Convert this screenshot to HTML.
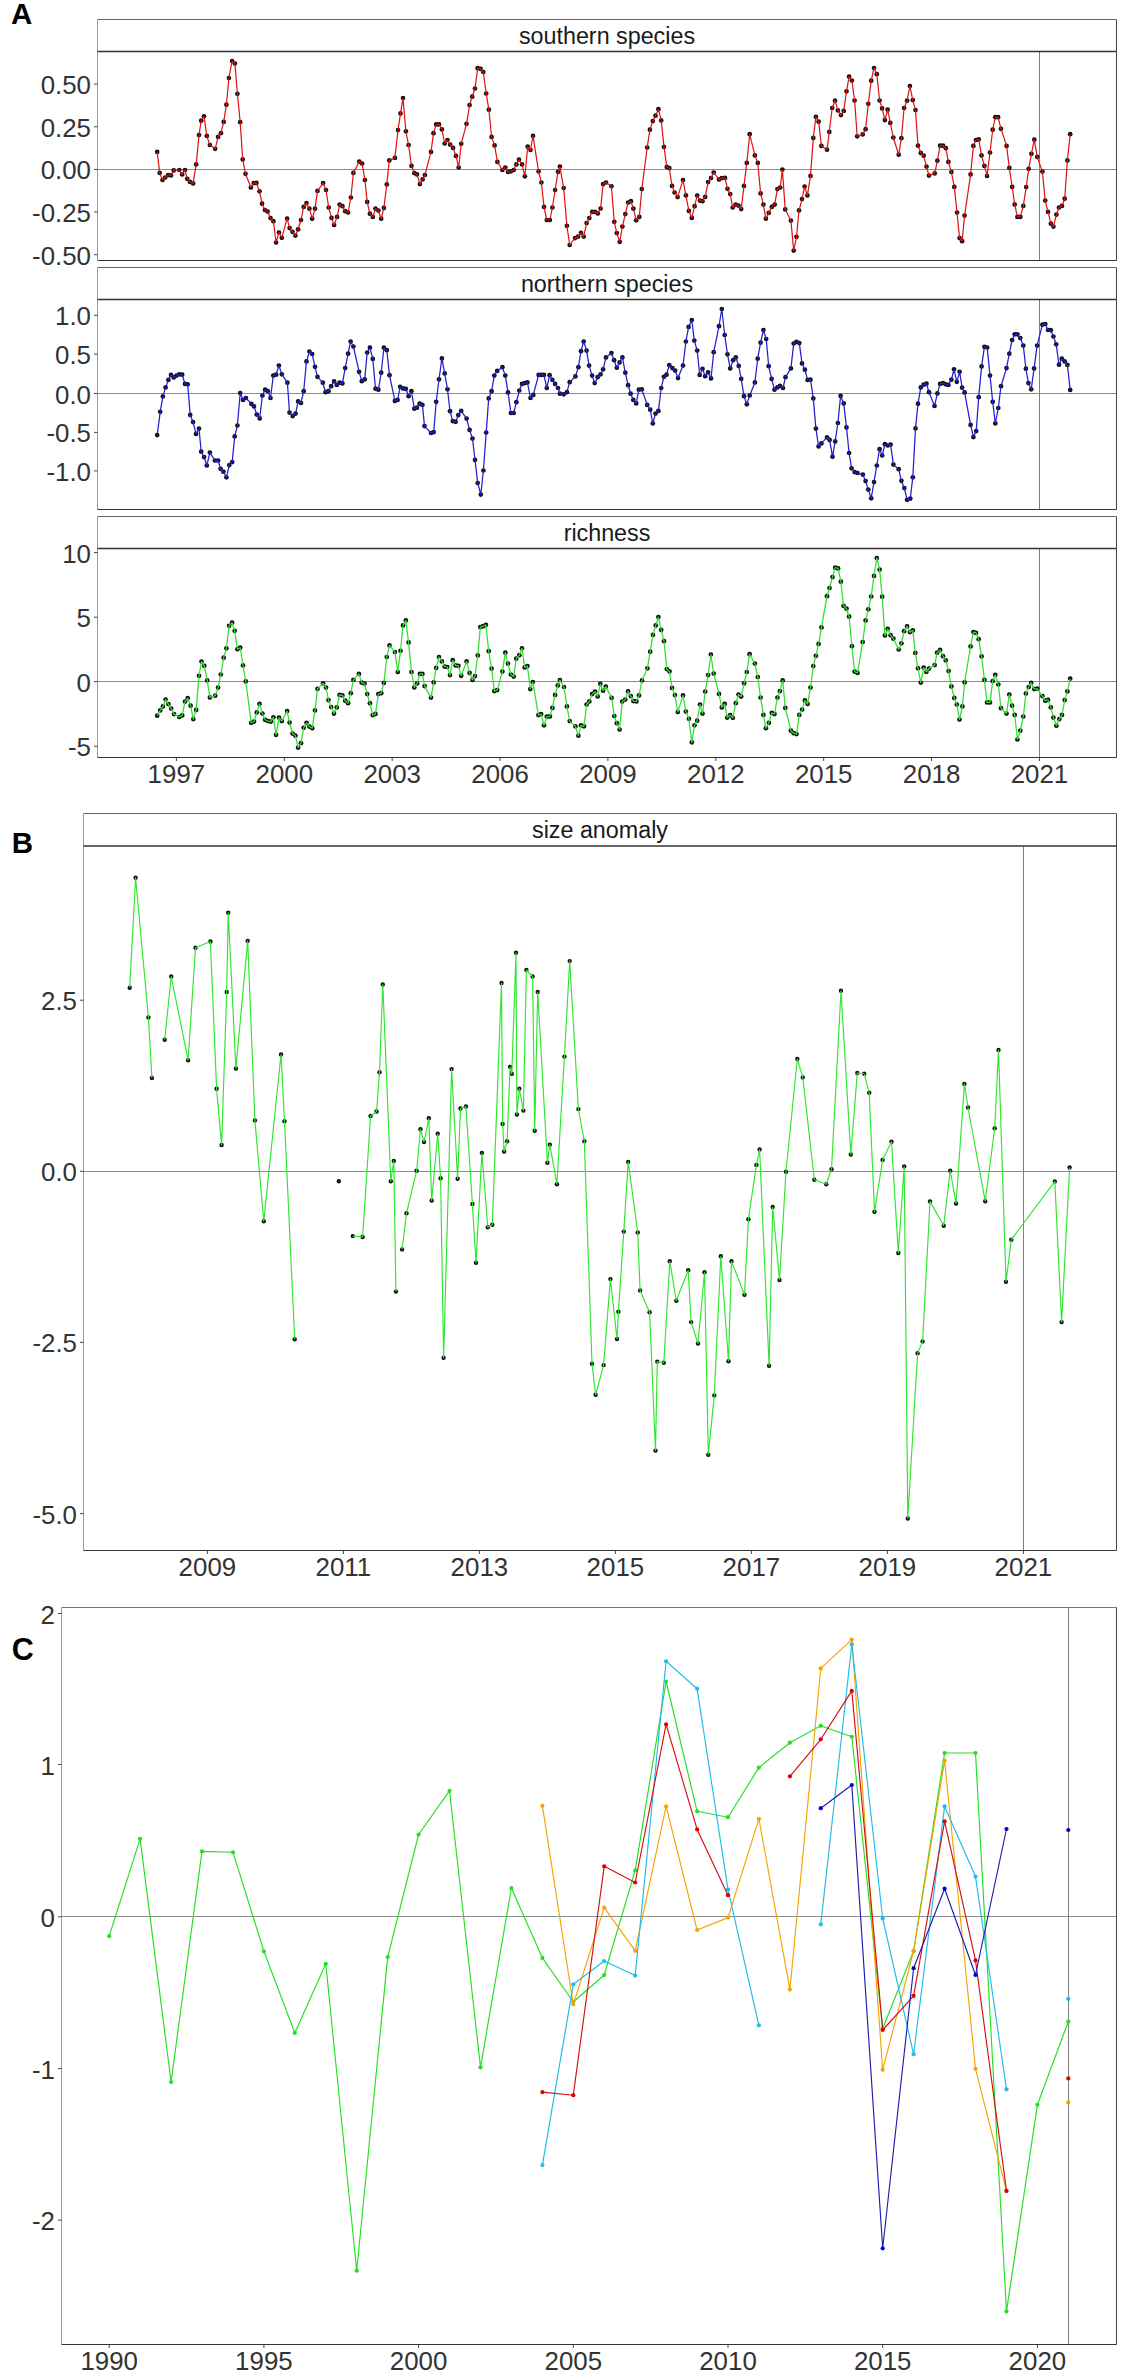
<!DOCTYPE html>
<html><head><meta charset="utf-8"><style>
html,body{margin:0;padding:0;background:#fff;}
svg{display:block;font-family:"Liberation Sans",sans-serif;}
</style></head><body>
<svg width="1121" height="2374" viewBox="0 0 1121 2374">
<rect width="1121" height="2374" fill="#fff"/>
<line x1="97.5" y1="19.5" x2="1116.5" y2="19.5" stroke="#666" stroke-width="1"/>
<line x1="97.5" y1="19.5" x2="97.5" y2="51.5" stroke="#9a9a9a" stroke-width="1"/>
<line x1="1116.5" y1="19.5" x2="1116.5" y2="51.5" stroke="#444" stroke-width="1"/>
<text x="607.0" y="43.5" font-size="23.3" text-anchor="middle" fill="#1a1a1a" font-weight="normal">southern species</text>
<line x1="97.5" y1="169.5" x2="1116.5" y2="169.5" stroke="#8c8c8c" stroke-width="1"/>
<line x1="1039.5" y1="51.5" x2="1039.5" y2="260.5" stroke="#808080" stroke-width="1"/>
<line x1="97.5" y1="51.5" x2="97.5" y2="260.5" stroke="#9a9a9a" stroke-width="1"/>
<line x1="1116.5" y1="51.5" x2="1116.5" y2="260.5" stroke="#444" stroke-width="1"/>
<line x1="97.5" y1="260.5" x2="1116.5" y2="260.5" stroke="#333" stroke-width="1"/>
<line x1="97.5" y1="51.5" x2="1116.5" y2="51.5" stroke="#333" stroke-width="1.5"/>
<line x1="94.0" y1="84.1" x2="97.5" y2="84.1" stroke="#444" stroke-width="1"/>
<text transform="translate(91.00,94.10) scale(1.035,1)" x="0" y="0" font-size="25" text-anchor="end" fill="#333333" font-weight="normal">0.50</text>
<line x1="94.0" y1="126.8" x2="97.5" y2="126.8" stroke="#444" stroke-width="1"/>
<text transform="translate(91.00,136.80) scale(1.035,1)" x="0" y="0" font-size="25" text-anchor="end" fill="#333333" font-weight="normal">0.25</text>
<line x1="94.0" y1="169.4" x2="97.5" y2="169.4" stroke="#444" stroke-width="1"/>
<text transform="translate(91.00,179.40) scale(1.035,1)" x="0" y="0" font-size="25" text-anchor="end" fill="#333333" font-weight="normal">0.00</text>
<line x1="94.0" y1="212.0" x2="97.5" y2="212.0" stroke="#444" stroke-width="1"/>
<text transform="translate(91.00,222.00) scale(1.035,1)" x="0" y="0" font-size="25" text-anchor="end" fill="#333333" font-weight="normal">-0.25</text>
<line x1="94.0" y1="254.7" x2="97.5" y2="254.7" stroke="#444" stroke-width="1"/>
<text transform="translate(91.00,264.70) scale(1.035,1)" x="0" y="0" font-size="25" text-anchor="end" fill="#333333" font-weight="normal">-0.50</text>
<line x1="97.5" y1="267.5" x2="1116.5" y2="267.5" stroke="#666" stroke-width="1"/>
<line x1="97.5" y1="267.5" x2="97.5" y2="299.5" stroke="#9a9a9a" stroke-width="1"/>
<line x1="1116.5" y1="267.5" x2="1116.5" y2="299.5" stroke="#444" stroke-width="1"/>
<text x="607.0" y="291.5" font-size="23.3" text-anchor="middle" fill="#1a1a1a" font-weight="normal">northern species</text>
<line x1="97.5" y1="393.5" x2="1116.5" y2="393.5" stroke="#8c8c8c" stroke-width="1"/>
<line x1="1039.5" y1="299.5" x2="1039.5" y2="509.5" stroke="#808080" stroke-width="1"/>
<line x1="97.5" y1="299.5" x2="97.5" y2="509.5" stroke="#9a9a9a" stroke-width="1"/>
<line x1="1116.5" y1="299.5" x2="1116.5" y2="509.5" stroke="#444" stroke-width="1"/>
<line x1="97.5" y1="509.5" x2="1116.5" y2="509.5" stroke="#333" stroke-width="1"/>
<line x1="97.5" y1="299.5" x2="1116.5" y2="299.5" stroke="#333" stroke-width="1.5"/>
<line x1="94.0" y1="315.3" x2="97.5" y2="315.3" stroke="#444" stroke-width="1"/>
<text transform="translate(91.00,325.30) scale(1.035,1)" x="0" y="0" font-size="25" text-anchor="end" fill="#333333" font-weight="normal">1.0</text>
<line x1="94.0" y1="354.1" x2="97.5" y2="354.1" stroke="#444" stroke-width="1"/>
<text transform="translate(91.00,364.10) scale(1.035,1)" x="0" y="0" font-size="25" text-anchor="end" fill="#333333" font-weight="normal">0.5</text>
<line x1="94.0" y1="393.5" x2="97.5" y2="393.5" stroke="#444" stroke-width="1"/>
<text transform="translate(91.00,403.50) scale(1.035,1)" x="0" y="0" font-size="25" text-anchor="end" fill="#333333" font-weight="normal">0.0</text>
<line x1="94.0" y1="432.4" x2="97.5" y2="432.4" stroke="#444" stroke-width="1"/>
<text transform="translate(91.00,442.40) scale(1.035,1)" x="0" y="0" font-size="25" text-anchor="end" fill="#333333" font-weight="normal">-0.5</text>
<line x1="94.0" y1="470.9" x2="97.5" y2="470.9" stroke="#444" stroke-width="1"/>
<text transform="translate(91.00,480.90) scale(1.035,1)" x="0" y="0" font-size="25" text-anchor="end" fill="#333333" font-weight="normal">-1.0</text>
<line x1="97.5" y1="516.5" x2="1116.5" y2="516.5" stroke="#666" stroke-width="1"/>
<line x1="97.5" y1="516.5" x2="97.5" y2="548.5" stroke="#9a9a9a" stroke-width="1"/>
<line x1="1116.5" y1="516.5" x2="1116.5" y2="548.5" stroke="#444" stroke-width="1"/>
<text x="607.0" y="540.5" font-size="23.3" text-anchor="middle" fill="#1a1a1a" font-weight="normal">richness</text>
<line x1="97.5" y1="681.5" x2="1116.5" y2="681.5" stroke="#8c8c8c" stroke-width="1"/>
<line x1="1039.5" y1="548.5" x2="1039.5" y2="757.5" stroke="#808080" stroke-width="1"/>
<line x1="97.5" y1="548.5" x2="97.5" y2="757.5" stroke="#9a9a9a" stroke-width="1"/>
<line x1="1116.5" y1="548.5" x2="1116.5" y2="757.5" stroke="#444" stroke-width="1"/>
<line x1="97.5" y1="757.5" x2="1116.5" y2="757.5" stroke="#333" stroke-width="1"/>
<line x1="97.5" y1="548.5" x2="1116.5" y2="548.5" stroke="#333" stroke-width="1.5"/>
<line x1="94.0" y1="552.6" x2="97.5" y2="552.6" stroke="#444" stroke-width="1"/>
<text transform="translate(91.00,562.60) scale(1.035,1)" x="0" y="0" font-size="25" text-anchor="end" fill="#333333" font-weight="normal">10</text>
<line x1="94.0" y1="617.2" x2="97.5" y2="617.2" stroke="#444" stroke-width="1"/>
<text transform="translate(91.00,627.20) scale(1.035,1)" x="0" y="0" font-size="25" text-anchor="end" fill="#333333" font-weight="normal">5</text>
<line x1="94.0" y1="681.7" x2="97.5" y2="681.7" stroke="#444" stroke-width="1"/>
<text transform="translate(91.00,691.70) scale(1.035,1)" x="0" y="0" font-size="25" text-anchor="end" fill="#333333" font-weight="normal">0</text>
<line x1="94.0" y1="746.3" x2="97.5" y2="746.3" stroke="#444" stroke-width="1"/>
<text transform="translate(91.00,756.30) scale(1.035,1)" x="0" y="0" font-size="25" text-anchor="end" fill="#333333" font-weight="normal">-5</text>
<line x1="176.4" y1="757.5" x2="176.4" y2="761" stroke="#444" stroke-width="1"/>
<text transform="translate(176.40,782.50) scale(1.035,1)" x="0" y="0" font-size="25" text-anchor="middle" fill="#333333" font-weight="normal">1997</text>
<line x1="284.28" y1="757.5" x2="284.28" y2="761" stroke="#444" stroke-width="1"/>
<text transform="translate(284.28,782.50) scale(1.035,1)" x="0" y="0" font-size="25" text-anchor="middle" fill="#333333" font-weight="normal">2000</text>
<line x1="392.15999999999997" y1="757.5" x2="392.15999999999997" y2="761" stroke="#444" stroke-width="1"/>
<text transform="translate(392.16,782.50) scale(1.035,1)" x="0" y="0" font-size="25" text-anchor="middle" fill="#333333" font-weight="normal">2003</text>
<line x1="500.03999999999996" y1="757.5" x2="500.03999999999996" y2="761" stroke="#444" stroke-width="1"/>
<text transform="translate(500.04,782.50) scale(1.035,1)" x="0" y="0" font-size="25" text-anchor="middle" fill="#333333" font-weight="normal">2006</text>
<line x1="607.92" y1="757.5" x2="607.92" y2="761" stroke="#444" stroke-width="1"/>
<text transform="translate(607.92,782.50) scale(1.035,1)" x="0" y="0" font-size="25" text-anchor="middle" fill="#333333" font-weight="normal">2009</text>
<line x1="715.8" y1="757.5" x2="715.8" y2="761" stroke="#444" stroke-width="1"/>
<text transform="translate(715.80,782.50) scale(1.035,1)" x="0" y="0" font-size="25" text-anchor="middle" fill="#333333" font-weight="normal">2012</text>
<line x1="823.68" y1="757.5" x2="823.68" y2="761" stroke="#444" stroke-width="1"/>
<text transform="translate(823.68,782.50) scale(1.035,1)" x="0" y="0" font-size="25" text-anchor="middle" fill="#333333" font-weight="normal">2015</text>
<line x1="931.56" y1="757.5" x2="931.56" y2="761" stroke="#444" stroke-width="1"/>
<text transform="translate(931.56,782.50) scale(1.035,1)" x="0" y="0" font-size="25" text-anchor="middle" fill="#333333" font-weight="normal">2018</text>
<line x1="1039.44" y1="757.5" x2="1039.44" y2="761" stroke="#444" stroke-width="1"/>
<text transform="translate(1039.44,782.50) scale(1.035,1)" x="0" y="0" font-size="25" text-anchor="middle" fill="#333333" font-weight="normal">2021</text>
<line x1="83.5" y1="813.5" x2="1116.5" y2="813.5" stroke="#666" stroke-width="1"/>
<line x1="83.5" y1="813.5" x2="83.5" y2="846" stroke="#9a9a9a" stroke-width="1"/>
<line x1="1116.5" y1="813.5" x2="1116.5" y2="846" stroke="#444" stroke-width="1"/>
<text x="600.0" y="838" font-size="23.3" text-anchor="middle" fill="#1a1a1a" font-weight="normal">size anomaly</text>
<line x1="83.5" y1="1171.5" x2="1116.5" y2="1171.5" stroke="#8c8c8c" stroke-width="1"/>
<line x1="1023.5" y1="846" x2="1023.5" y2="1550.5" stroke="#808080" stroke-width="1"/>
<line x1="83.5" y1="846" x2="83.5" y2="1550.5" stroke="#9a9a9a" stroke-width="1"/>
<line x1="1116.5" y1="846" x2="1116.5" y2="1550.5" stroke="#444" stroke-width="1"/>
<line x1="83.5" y1="1550.5" x2="1116.5" y2="1550.5" stroke="#333" stroke-width="1"/>
<line x1="83.5" y1="846" x2="1116.5" y2="846" stroke="#333" stroke-width="1.5"/>
<line x1="80.0" y1="1000.2" x2="83.5" y2="1000.2" stroke="#444" stroke-width="1"/>
<text transform="translate(77.00,1010.20) scale(1.035,1)" x="0" y="0" font-size="25" text-anchor="end" fill="#333333" font-weight="normal">2.5</text>
<line x1="80.0" y1="1171.3" x2="83.5" y2="1171.3" stroke="#444" stroke-width="1"/>
<text transform="translate(77.00,1181.30) scale(1.035,1)" x="0" y="0" font-size="25" text-anchor="end" fill="#333333" font-weight="normal">0.0</text>
<line x1="80.0" y1="1342.4" x2="83.5" y2="1342.4" stroke="#444" stroke-width="1"/>
<text transform="translate(77.00,1352.40) scale(1.035,1)" x="0" y="0" font-size="25" text-anchor="end" fill="#333333" font-weight="normal">-2.5</text>
<line x1="80.0" y1="1513.6" x2="83.5" y2="1513.6" stroke="#444" stroke-width="1"/>
<text transform="translate(77.00,1523.60) scale(1.035,1)" x="0" y="0" font-size="25" text-anchor="end" fill="#333333" font-weight="normal">-5.0</text>
<line x1="207.4" y1="1550.5" x2="207.4" y2="1554" stroke="#444" stroke-width="1"/>
<text transform="translate(207.40,1575.50) scale(1.035,1)" x="0" y="0" font-size="25" text-anchor="middle" fill="#333333" font-weight="normal">2009</text>
<line x1="343.4" y1="1550.5" x2="343.4" y2="1554" stroke="#444" stroke-width="1"/>
<text transform="translate(343.40,1575.50) scale(1.035,1)" x="0" y="0" font-size="25" text-anchor="middle" fill="#333333" font-weight="normal">2011</text>
<line x1="479.4" y1="1550.5" x2="479.4" y2="1554" stroke="#444" stroke-width="1"/>
<text transform="translate(479.40,1575.50) scale(1.035,1)" x="0" y="0" font-size="25" text-anchor="middle" fill="#333333" font-weight="normal">2013</text>
<line x1="615.4" y1="1550.5" x2="615.4" y2="1554" stroke="#444" stroke-width="1"/>
<text transform="translate(615.40,1575.50) scale(1.035,1)" x="0" y="0" font-size="25" text-anchor="middle" fill="#333333" font-weight="normal">2015</text>
<line x1="751.4" y1="1550.5" x2="751.4" y2="1554" stroke="#444" stroke-width="1"/>
<text transform="translate(751.40,1575.50) scale(1.035,1)" x="0" y="0" font-size="25" text-anchor="middle" fill="#333333" font-weight="normal">2017</text>
<line x1="887.4" y1="1550.5" x2="887.4" y2="1554" stroke="#444" stroke-width="1"/>
<text transform="translate(887.40,1575.50) scale(1.035,1)" x="0" y="0" font-size="25" text-anchor="middle" fill="#333333" font-weight="normal">2019</text>
<line x1="1023.4" y1="1550.5" x2="1023.4" y2="1554" stroke="#444" stroke-width="1"/>
<text transform="translate(1023.40,1575.50) scale(1.035,1)" x="0" y="0" font-size="25" text-anchor="middle" fill="#333333" font-weight="normal">2021</text>
<line x1="61.5" y1="1607.5" x2="1116.5" y2="1607.5" stroke="#777" stroke-width="1"/>
<line x1="61.5" y1="1916.5" x2="1116.5" y2="1916.5" stroke="#8c8c8c" stroke-width="1"/>
<line x1="1068.5" y1="1607.5" x2="1068.5" y2="2344.5" stroke="#808080" stroke-width="1"/>
<line x1="61.5" y1="1607.5" x2="61.5" y2="2344.5" stroke="#9a9a9a" stroke-width="1"/>
<line x1="1116.5" y1="1607.5" x2="1116.5" y2="2344.5" stroke="#444" stroke-width="1"/>
<line x1="61.5" y1="2344.5" x2="1116.5" y2="2344.5" stroke="#333" stroke-width="1"/>
<line x1="58.0" y1="1613.5" x2="61.5" y2="1613.5" stroke="#444" stroke-width="1"/>
<text transform="translate(55.00,1623.50) scale(1.035,1)" x="0" y="0" font-size="25" text-anchor="end" fill="#333333" font-weight="normal">2</text>
<line x1="58.0" y1="1764.5" x2="61.5" y2="1764.5" stroke="#444" stroke-width="1"/>
<text transform="translate(55.00,1774.50) scale(1.035,1)" x="0" y="0" font-size="25" text-anchor="end" fill="#333333" font-weight="normal">1</text>
<line x1="58.0" y1="1916.8" x2="61.5" y2="1916.8" stroke="#444" stroke-width="1"/>
<text transform="translate(55.00,1926.80) scale(1.035,1)" x="0" y="0" font-size="25" text-anchor="end" fill="#333333" font-weight="normal">0</text>
<line x1="58.0" y1="2068.6" x2="61.5" y2="2068.6" stroke="#444" stroke-width="1"/>
<text transform="translate(55.00,2078.60) scale(1.035,1)" x="0" y="0" font-size="25" text-anchor="end" fill="#333333" font-weight="normal">-1</text>
<line x1="58.0" y1="2220.1" x2="61.5" y2="2220.1" stroke="#444" stroke-width="1"/>
<text transform="translate(55.00,2230.10) scale(1.035,1)" x="0" y="0" font-size="25" text-anchor="end" fill="#333333" font-weight="normal">-2</text>
<line x1="109.2" y1="2344.5" x2="109.2" y2="2348" stroke="#444" stroke-width="1"/>
<text transform="translate(109.20,2369.50) scale(1.035,1)" x="0" y="0" font-size="25" text-anchor="middle" fill="#333333" font-weight="normal">1990</text>
<line x1="263.90000000000003" y1="2344.5" x2="263.90000000000003" y2="2348" stroke="#444" stroke-width="1"/>
<text transform="translate(263.90,2369.50) scale(1.035,1)" x="0" y="0" font-size="25" text-anchor="middle" fill="#333333" font-weight="normal">1995</text>
<line x1="418.6" y1="2344.5" x2="418.6" y2="2348" stroke="#444" stroke-width="1"/>
<text transform="translate(418.60,2369.50) scale(1.035,1)" x="0" y="0" font-size="25" text-anchor="middle" fill="#333333" font-weight="normal">2000</text>
<line x1="573.3000000000001" y1="2344.5" x2="573.3000000000001" y2="2348" stroke="#444" stroke-width="1"/>
<text transform="translate(573.30,2369.50) scale(1.035,1)" x="0" y="0" font-size="25" text-anchor="middle" fill="#333333" font-weight="normal">2005</text>
<line x1="728.0000000000001" y1="2344.5" x2="728.0000000000001" y2="2348" stroke="#444" stroke-width="1"/>
<text transform="translate(728.00,2369.50) scale(1.035,1)" x="0" y="0" font-size="25" text-anchor="middle" fill="#333333" font-weight="normal">2010</text>
<line x1="882.7" y1="2344.5" x2="882.7" y2="2348" stroke="#444" stroke-width="1"/>
<text transform="translate(882.70,2369.50) scale(1.035,1)" x="0" y="0" font-size="25" text-anchor="middle" fill="#333333" font-weight="normal">2015</text>
<line x1="1037.4" y1="2344.5" x2="1037.4" y2="2348" stroke="#444" stroke-width="1"/>
<text transform="translate(1037.40,2369.50) scale(1.035,1)" x="0" y="0" font-size="25" text-anchor="middle" fill="#333333" font-weight="normal">2020</text>
<text x="11.0" y="23.8" font-size="29.5" text-anchor="start" fill="#000" font-weight="bold">A</text>
<text x="11.8" y="853.3" font-size="29.5" text-anchor="start" fill="#000" font-weight="bold">B</text>
<text x="11.8" y="1659.6" font-size="30.5" text-anchor="start" fill="#000" font-weight="bold">C</text>
<circle cx="129.7" cy="987.8" r="2.2" fill="#111"/>
<circle cx="135.6" cy="877.7" r="2.2" fill="#111"/>
<circle cx="148.4" cy="1017.5" r="2.2" fill="#111"/>
<circle cx="151.9" cy="1078.0" r="2.2" fill="#111"/>
<circle cx="164.7" cy="1039.7" r="2.2" fill="#111"/>
<circle cx="171.2" cy="976.5" r="2.2" fill="#111"/>
<circle cx="188.1" cy="1060.2" r="2.2" fill="#111"/>
<circle cx="195.5" cy="947.7" r="2.2" fill="#111"/>
<circle cx="210.4" cy="941.5" r="2.2" fill="#111"/>
<circle cx="216.6" cy="1088.7" r="2.2" fill="#111"/>
<circle cx="221.6" cy="1145.0" r="2.2" fill="#111"/>
<circle cx="226.7" cy="992.0" r="2.2" fill="#111"/>
<circle cx="228.2" cy="912.7" r="2.2" fill="#111"/>
<circle cx="235.9" cy="1068.5" r="2.2" fill="#111"/>
<circle cx="247.7" cy="940.9" r="2.2" fill="#111"/>
<circle cx="254.9" cy="1120.4" r="2.2" fill="#111"/>
<circle cx="263.8" cy="1221.3" r="2.2" fill="#111"/>
<circle cx="281.0" cy="1054.5" r="2.2" fill="#111"/>
<circle cx="284.5" cy="1121.3" r="2.2" fill="#111"/>
<circle cx="294.7" cy="1339.2" r="2.2" fill="#111"/>
<circle cx="352.8" cy="1236.1" r="2.2" fill="#111"/>
<circle cx="362.6" cy="1237.0" r="2.2" fill="#111"/>
<circle cx="370.6" cy="1116.0" r="2.2" fill="#111"/>
<circle cx="376.6" cy="1111.5" r="2.2" fill="#111"/>
<circle cx="379.5" cy="1072.3" r="2.2" fill="#111"/>
<circle cx="382.8" cy="984.5" r="2.2" fill="#111"/>
<circle cx="390.8" cy="1181.2" r="2.2" fill="#111"/>
<circle cx="393.8" cy="1161.0" r="2.2" fill="#111"/>
<circle cx="395.9" cy="1291.6" r="2.2" fill="#111"/>
<circle cx="402.1" cy="1249.4" r="2.2" fill="#111"/>
<circle cx="406.5" cy="1213.3" r="2.2" fill="#111"/>
<circle cx="416.6" cy="1170.8" r="2.2" fill="#111"/>
<circle cx="420.5" cy="1129.3" r="2.2" fill="#111"/>
<circle cx="424.0" cy="1142.0" r="2.2" fill="#111"/>
<circle cx="428.8" cy="1118.3" r="2.2" fill="#111"/>
<circle cx="431.7" cy="1200.5" r="2.2" fill="#111"/>
<circle cx="437.7" cy="1133.7" r="2.2" fill="#111"/>
<circle cx="440.6" cy="1178.2" r="2.2" fill="#111"/>
<circle cx="443.6" cy="1357.7" r="2.2" fill="#111"/>
<circle cx="451.6" cy="1069.1" r="2.2" fill="#111"/>
<circle cx="457.6" cy="1178.8" r="2.2" fill="#111"/>
<circle cx="460.5" cy="1108.5" r="2.2" fill="#111"/>
<circle cx="465.9" cy="1106.5" r="2.2" fill="#111"/>
<circle cx="472.4" cy="1204.0" r="2.2" fill="#111"/>
<circle cx="476.0" cy="1262.8" r="2.2" fill="#111"/>
<circle cx="481.9" cy="1153.0" r="2.2" fill="#111"/>
<circle cx="487.8" cy="1227.2" r="2.2" fill="#111"/>
<circle cx="492.3" cy="1224.8" r="2.2" fill="#111"/>
<circle cx="501.5" cy="983.0" r="2.2" fill="#111"/>
<circle cx="502.6" cy="1124.0" r="2.2" fill="#111"/>
<circle cx="504.1" cy="1151.5" r="2.2" fill="#111"/>
<circle cx="507.1" cy="1141.2" r="2.2" fill="#111"/>
<circle cx="510.1" cy="1067.0" r="2.2" fill="#111"/>
<circle cx="511.8" cy="1073.8" r="2.2" fill="#111"/>
<circle cx="516.0" cy="952.8" r="2.2" fill="#111"/>
<circle cx="516.9" cy="1114.5" r="2.2" fill="#111"/>
<circle cx="519.3" cy="1088.7" r="2.2" fill="#111"/>
<circle cx="523.4" cy="1110.6" r="2.2" fill="#111"/>
<circle cx="526.4" cy="970.0" r="2.2" fill="#111"/>
<circle cx="532.6" cy="976.5" r="2.2" fill="#111"/>
<circle cx="534.7" cy="1130.8" r="2.2" fill="#111"/>
<circle cx="537.7" cy="992.0" r="2.2" fill="#111"/>
<circle cx="547.4" cy="1162.8" r="2.2" fill="#111"/>
<circle cx="549.8" cy="1144.7" r="2.2" fill="#111"/>
<circle cx="556.9" cy="1184.2" r="2.2" fill="#111"/>
<circle cx="564.4" cy="1056.6" r="2.2" fill="#111"/>
<circle cx="569.7" cy="961.1" r="2.2" fill="#111"/>
<circle cx="578.4" cy="1109.1" r="2.2" fill="#111"/>
<circle cx="584.3" cy="1141.2" r="2.2" fill="#111"/>
<circle cx="592.0" cy="1363.7" r="2.2" fill="#111"/>
<circle cx="595.6" cy="1394.8" r="2.2" fill="#111"/>
<circle cx="603.6" cy="1365.1" r="2.2" fill="#111"/>
<circle cx="610.4" cy="1279.1" r="2.2" fill="#111"/>
<circle cx="617.0" cy="1339.0" r="2.2" fill="#111"/>
<circle cx="618.4" cy="1311.7" r="2.2" fill="#111"/>
<circle cx="623.8" cy="1231.6" r="2.2" fill="#111"/>
<circle cx="628.2" cy="1161.9" r="2.2" fill="#111"/>
<circle cx="637.7" cy="1232.5" r="2.2" fill="#111"/>
<circle cx="640.1" cy="1290.4" r="2.2" fill="#111"/>
<circle cx="649.6" cy="1312.3" r="2.2" fill="#111"/>
<circle cx="655.5" cy="1450.6" r="2.2" fill="#111"/>
<circle cx="657.3" cy="1361.6" r="2.2" fill="#111"/>
<circle cx="663.8" cy="1362.8" r="2.2" fill="#111"/>
<circle cx="669.8" cy="1261.3" r="2.2" fill="#111"/>
<circle cx="676.3" cy="1300.8" r="2.2" fill="#111"/>
<circle cx="688.2" cy="1270.2" r="2.2" fill="#111"/>
<circle cx="691.1" cy="1322.1" r="2.2" fill="#111"/>
<circle cx="698.0" cy="1343.5" r="2.2" fill="#111"/>
<circle cx="704.5" cy="1272.3" r="2.2" fill="#111"/>
<circle cx="708.3" cy="1454.7" r="2.2" fill="#111"/>
<circle cx="714.3" cy="1395.4" r="2.2" fill="#111"/>
<circle cx="720.8" cy="1256.3" r="2.2" fill="#111"/>
<circle cx="728.5" cy="1361.3" r="2.2" fill="#111"/>
<circle cx="731.5" cy="1261.3" r="2.2" fill="#111"/>
<circle cx="744.5" cy="1294.8" r="2.2" fill="#111"/>
<circle cx="748.4" cy="1219.2" r="2.2" fill="#111"/>
<circle cx="756.4" cy="1164.9" r="2.2" fill="#111"/>
<circle cx="759.6" cy="1149.5" r="2.2" fill="#111"/>
<circle cx="769.1" cy="1365.7" r="2.2" fill="#111"/>
<circle cx="772.7" cy="1207.0" r="2.2" fill="#111"/>
<circle cx="779.5" cy="1280.0" r="2.2" fill="#111"/>
<circle cx="786.0" cy="1171.7" r="2.2" fill="#111"/>
<circle cx="797.3" cy="1059.0" r="2.2" fill="#111"/>
<circle cx="802.8" cy="1077.4" r="2.2" fill="#111"/>
<circle cx="814.3" cy="1179.7" r="2.2" fill="#111"/>
<circle cx="826.2" cy="1184.2" r="2.2" fill="#111"/>
<circle cx="831.5" cy="1169.3" r="2.2" fill="#111"/>
<circle cx="841.0" cy="990.8" r="2.2" fill="#111"/>
<circle cx="850.8" cy="1154.5" r="2.2" fill="#111"/>
<circle cx="857.3" cy="1073.0" r="2.2" fill="#111"/>
<circle cx="864.2" cy="1073.8" r="2.2" fill="#111"/>
<circle cx="869.2" cy="1092.8" r="2.2" fill="#111"/>
<circle cx="874.5" cy="1211.8" r="2.2" fill="#111"/>
<circle cx="882.6" cy="1159.9" r="2.2" fill="#111"/>
<circle cx="891.5" cy="1141.8" r="2.2" fill="#111"/>
<circle cx="898.3" cy="1253.0" r="2.2" fill="#111"/>
<circle cx="904.2" cy="1166.4" r="2.2" fill="#111"/>
<circle cx="907.8" cy="1518.5" r="2.2" fill="#111"/>
<circle cx="917.6" cy="1353.3" r="2.2" fill="#111"/>
<circle cx="922.6" cy="1341.4" r="2.2" fill="#111"/>
<circle cx="930.0" cy="1201.4" r="2.2" fill="#111"/>
<circle cx="943.7" cy="1225.7" r="2.2" fill="#111"/>
<circle cx="950.2" cy="1170.8" r="2.2" fill="#111"/>
<circle cx="956.1" cy="1203.5" r="2.2" fill="#111"/>
<circle cx="964.4" cy="1083.9" r="2.2" fill="#111"/>
<circle cx="968.0" cy="1107.5" r="2.2" fill="#111"/>
<circle cx="985.2" cy="1201.2" r="2.2" fill="#111"/>
<circle cx="994.7" cy="1128.2" r="2.2" fill="#111"/>
<circle cx="998.5" cy="1050.0" r="2.2" fill="#111"/>
<circle cx="1006.0" cy="1281.8" r="2.2" fill="#111"/>
<circle cx="1011.3" cy="1239.7" r="2.2" fill="#111"/>
<circle cx="1054.8" cy="1181.4" r="2.2" fill="#111"/>
<circle cx="1061.6" cy="1322.1" r="2.2" fill="#111"/>
<circle cx="1069.6" cy="1167.5" r="2.2" fill="#111"/>
<circle cx="338.8" cy="1181.2" r="2.2" fill="#111"/>
<polyline points="129.7,987.8 135.6,877.7 148.4,1017.5 151.9,1078.0" fill="none" stroke="#2ee62e" stroke-width="1.15" stroke-linejoin="round"/>
<polyline points="164.7,1039.7 171.2,976.5 188.1,1060.2 195.5,947.7 210.4,941.5 216.6,1088.7 221.6,1145.0 226.7,992.0 228.2,912.7 235.9,1068.5 247.7,940.9 254.9,1120.4 263.8,1221.3 281.0,1054.5 284.5,1121.3 294.7,1339.2" fill="none" stroke="#2ee62e" stroke-width="1.15" stroke-linejoin="round"/>
<polyline points="352.8,1236.1 362.6,1237.0 370.6,1116.0 376.6,1111.5 379.5,1072.3 382.8,984.5 390.8,1181.2 393.8,1161.0 395.9,1291.6" fill="none" stroke="#2ee62e" stroke-width="1.15" stroke-linejoin="round"/>
<polyline points="402.1,1249.4 406.5,1213.3 416.6,1170.8 420.5,1129.3 424.0,1142.0 428.8,1118.3 431.7,1200.5 437.7,1133.7 440.6,1178.2 443.6,1357.7 451.6,1069.1 457.6,1178.8 460.5,1108.5 465.9,1106.5 472.4,1204.0 476.0,1262.8 481.9,1153.0 487.8,1227.2 492.3,1224.8 501.5,983.0 502.6,1124.0 504.1,1151.5 507.1,1141.2 510.1,1067.0 511.8,1073.8 516.0,952.8 516.9,1114.5 519.3,1088.7 523.4,1110.6 526.4,970.0 532.6,976.5 534.7,1130.8 537.7,992.0 547.4,1162.8 549.8,1144.7 556.9,1184.2 564.4,1056.6 569.7,961.1 578.4,1109.1 584.3,1141.2 592.0,1363.7 595.6,1394.8 603.6,1365.1 610.4,1279.1 617.0,1339.0 618.4,1311.7 623.8,1231.6 628.2,1161.9 637.7,1232.5 640.1,1290.4 649.6,1312.3 655.5,1450.6 657.3,1361.6 663.8,1362.8 669.8,1261.3 676.3,1300.8 688.2,1270.2 691.1,1322.1 698.0,1343.5 704.5,1272.3 708.3,1454.7 714.3,1395.4 720.8,1256.3 728.5,1361.3 731.5,1261.3 744.5,1294.8 748.4,1219.2 756.4,1164.9 759.6,1149.5 769.1,1365.7 772.7,1207.0 779.5,1280.0 786.0,1171.7 797.3,1059.0 802.8,1077.4 814.3,1179.7 826.2,1184.2 831.5,1169.3 841.0,990.8 850.8,1154.5 857.3,1073.0 864.2,1073.8 869.2,1092.8 874.5,1211.8 882.6,1159.9 891.5,1141.8 898.3,1253.0 904.2,1166.4 907.8,1518.5 917.6,1353.3 922.6,1341.4 930.0,1201.4 943.7,1225.7 950.2,1170.8 956.1,1203.5 964.4,1083.9 968.0,1107.5 985.2,1201.2 994.7,1128.2 998.5,1050.0 1006.0,1281.8 1011.3,1239.7 1054.8,1181.4 1061.6,1322.1 1069.6,1167.5" fill="none" stroke="#2ee62e" stroke-width="1.15" stroke-linejoin="round"/>
<polyline points="109.2,1936.2 140.1,1838.9 171.1,2082.0 202.0,1851.4 233.0,1852.3 263.9,1951.3 294.8,2032.9 325.8,1963.8 356.7,2270.7 387.7,1957.1 418.6,1834.5 449.5,1790.8 480.5,2067.3 511.4,1888.0 542.4,1957.9 573.3,2002.0 604.2,1975.0 635.2,1870.4 666.1,1681.5 697.1,1811.3 728.0,1817.2 758.9,1767.6 789.9,1742.7 820.8,1725.8 851.8,1736.8 882.7,2028.5 913.6,1951.0 944.6,1753.0 975.5,1753.0 1006.5,2311.4 1037.4,2104.8 1068.3,2021.6" fill="none" stroke="#22e022" stroke-width="1.15" stroke-linejoin="round"/>
<circle cx="109.2" cy="1936.2" r="2.1" fill="#22e022"/>
<circle cx="140.1" cy="1838.9" r="2.1" fill="#22e022"/>
<circle cx="171.1" cy="2082.0" r="2.1" fill="#22e022"/>
<circle cx="202.0" cy="1851.4" r="2.1" fill="#22e022"/>
<circle cx="233.0" cy="1852.3" r="2.1" fill="#22e022"/>
<circle cx="263.9" cy="1951.3" r="2.1" fill="#22e022"/>
<circle cx="294.8" cy="2032.9" r="2.1" fill="#22e022"/>
<circle cx="325.8" cy="1963.8" r="2.1" fill="#22e022"/>
<circle cx="356.7" cy="2270.7" r="2.1" fill="#22e022"/>
<circle cx="387.7" cy="1957.1" r="2.1" fill="#22e022"/>
<circle cx="418.6" cy="1834.5" r="2.1" fill="#22e022"/>
<circle cx="449.5" cy="1790.8" r="2.1" fill="#22e022"/>
<circle cx="480.5" cy="2067.3" r="2.1" fill="#22e022"/>
<circle cx="511.4" cy="1888.0" r="2.1" fill="#22e022"/>
<circle cx="542.4" cy="1957.9" r="2.1" fill="#22e022"/>
<circle cx="573.3" cy="2002.0" r="2.1" fill="#22e022"/>
<circle cx="604.2" cy="1975.0" r="2.1" fill="#22e022"/>
<circle cx="635.2" cy="1870.4" r="2.1" fill="#22e022"/>
<circle cx="666.1" cy="1681.5" r="2.1" fill="#22e022"/>
<circle cx="697.1" cy="1811.3" r="2.1" fill="#22e022"/>
<circle cx="728.0" cy="1817.2" r="2.1" fill="#22e022"/>
<circle cx="758.9" cy="1767.6" r="2.1" fill="#22e022"/>
<circle cx="789.9" cy="1742.7" r="2.1" fill="#22e022"/>
<circle cx="820.8" cy="1725.8" r="2.1" fill="#22e022"/>
<circle cx="851.8" cy="1736.8" r="2.1" fill="#22e022"/>
<circle cx="882.7" cy="2028.5" r="2.1" fill="#22e022"/>
<circle cx="913.6" cy="1951.0" r="2.1" fill="#22e022"/>
<circle cx="944.6" cy="1753.0" r="2.1" fill="#22e022"/>
<circle cx="975.5" cy="1753.0" r="2.1" fill="#22e022"/>
<circle cx="1006.5" cy="2311.4" r="2.1" fill="#22e022"/>
<circle cx="1037.4" cy="2104.8" r="2.1" fill="#22e022"/>
<circle cx="1068.3" cy="2021.6" r="2.1" fill="#22e022"/>
<polyline points="542.4,1805.8 573.3,2004.5 604.2,1907.6 635.2,1950.8 666.1,1806.4 697.1,1930.0 728.0,1917.6 758.9,1818.8 789.9,1989.6 820.8,1668.3 851.8,1639.6 882.7,2069.7 913.6,1951.1 944.6,1760.7 975.5,2068.8 1006.5,2190.9" fill="none" stroke="#f5a300" stroke-width="1.15" stroke-linejoin="round"/>
<circle cx="542.4" cy="1805.8" r="2.1" fill="#f5a300"/>
<circle cx="573.3" cy="2004.5" r="2.1" fill="#f5a300"/>
<circle cx="604.2" cy="1907.6" r="2.1" fill="#f5a300"/>
<circle cx="635.2" cy="1950.8" r="2.1" fill="#f5a300"/>
<circle cx="666.1" cy="1806.4" r="2.1" fill="#f5a300"/>
<circle cx="697.1" cy="1930.0" r="2.1" fill="#f5a300"/>
<circle cx="728.0" cy="1917.6" r="2.1" fill="#f5a300"/>
<circle cx="758.9" cy="1818.8" r="2.1" fill="#f5a300"/>
<circle cx="789.9" cy="1989.6" r="2.1" fill="#f5a300"/>
<circle cx="820.8" cy="1668.3" r="2.1" fill="#f5a300"/>
<circle cx="851.8" cy="1639.6" r="2.1" fill="#f5a300"/>
<circle cx="882.7" cy="2069.7" r="2.1" fill="#f5a300"/>
<circle cx="913.6" cy="1951.1" r="2.1" fill="#f5a300"/>
<circle cx="944.6" cy="1760.7" r="2.1" fill="#f5a300"/>
<circle cx="975.5" cy="2068.8" r="2.1" fill="#f5a300"/>
<circle cx="1006.5" cy="2190.9" r="2.1" fill="#f5a300"/>
<circle cx="1068.3" cy="2102.3" r="2.1" fill="#f5a300"/>
<polyline points="542.4,2165.1 573.3,1984.3 604.2,1961.0 635.2,1975.6 666.1,1661.3 697.1,1688.7 728.0,1889.6 758.9,2025.3" fill="none" stroke="#1ebcee" stroke-width="1.15" stroke-linejoin="round"/>
<polyline points="820.8,1924.4 851.8,1644.3 882.7,1918.5 913.6,2054.2 944.6,1806.4 975.5,1876.6 1006.5,2089.3" fill="none" stroke="#1ebcee" stroke-width="1.15" stroke-linejoin="round"/>
<circle cx="542.4" cy="2165.1" r="2.1" fill="#1ebcee"/>
<circle cx="573.3" cy="1984.3" r="2.1" fill="#1ebcee"/>
<circle cx="604.2" cy="1961.0" r="2.1" fill="#1ebcee"/>
<circle cx="635.2" cy="1975.6" r="2.1" fill="#1ebcee"/>
<circle cx="666.1" cy="1661.3" r="2.1" fill="#1ebcee"/>
<circle cx="697.1" cy="1688.7" r="2.1" fill="#1ebcee"/>
<circle cx="728.0" cy="1889.6" r="2.1" fill="#1ebcee"/>
<circle cx="758.9" cy="2025.3" r="2.1" fill="#1ebcee"/>
<circle cx="820.8" cy="1924.4" r="2.1" fill="#1ebcee"/>
<circle cx="851.8" cy="1644.3" r="2.1" fill="#1ebcee"/>
<circle cx="882.7" cy="1918.5" r="2.1" fill="#1ebcee"/>
<circle cx="913.6" cy="2054.2" r="2.1" fill="#1ebcee"/>
<circle cx="944.6" cy="1806.4" r="2.1" fill="#1ebcee"/>
<circle cx="975.5" cy="1876.6" r="2.1" fill="#1ebcee"/>
<circle cx="1006.5" cy="2089.3" r="2.1" fill="#1ebcee"/>
<circle cx="1068.3" cy="1998.9" r="2.1" fill="#1ebcee"/>
<polyline points="542.4,2092.1 573.3,2095.2 604.2,1866.3 635.2,1882.5 666.1,1724.4 697.1,1829.4 728.0,1895.2" fill="none" stroke="#d41010" stroke-width="1.15" stroke-linejoin="round"/>
<polyline points="789.9,1776.3 820.8,1739.3 851.8,1690.9 882.7,2030.0 913.6,1995.8 944.6,1821.3 975.5,1960.4 1006.5,2190.9" fill="none" stroke="#d41010" stroke-width="1.15" stroke-linejoin="round"/>
<circle cx="542.4" cy="2092.1" r="2.1" fill="#e00000"/>
<circle cx="573.3" cy="2095.2" r="2.1" fill="#e00000"/>
<circle cx="604.2" cy="1866.3" r="2.1" fill="#e00000"/>
<circle cx="635.2" cy="1882.5" r="2.1" fill="#e00000"/>
<circle cx="666.1" cy="1724.4" r="2.1" fill="#e00000"/>
<circle cx="697.1" cy="1829.4" r="2.1" fill="#e00000"/>
<circle cx="728.0" cy="1895.2" r="2.1" fill="#e00000"/>
<circle cx="789.9" cy="1776.3" r="2.1" fill="#e00000"/>
<circle cx="820.8" cy="1739.3" r="2.1" fill="#e00000"/>
<circle cx="851.8" cy="1690.9" r="2.1" fill="#e00000"/>
<circle cx="882.7" cy="2030.0" r="2.1" fill="#e00000"/>
<circle cx="913.6" cy="1995.8" r="2.1" fill="#e00000"/>
<circle cx="944.6" cy="1821.3" r="2.1" fill="#e00000"/>
<circle cx="975.5" cy="1960.4" r="2.1" fill="#e00000"/>
<circle cx="1006.5" cy="2190.9" r="2.1" fill="#e00000"/>
<circle cx="1068.3" cy="2078.4" r="2.1" fill="#e00000"/>
<polyline points="820.8,1808.2 851.8,1785.0 882.7,2248.3 913.6,1968.2 944.6,1888.7 975.5,1975.0 1006.5,1829.0" fill="none" stroke="#1c1cb0" stroke-width="1.15" stroke-linejoin="round"/>
<circle cx="820.8" cy="1808.2" r="2.1" fill="#0000d0"/>
<circle cx="851.8" cy="1785.0" r="2.1" fill="#0000d0"/>
<circle cx="882.7" cy="2248.3" r="2.1" fill="#0000d0"/>
<circle cx="913.6" cy="1968.2" r="2.1" fill="#0000d0"/>
<circle cx="944.6" cy="1888.7" r="2.1" fill="#0000d0"/>
<circle cx="975.5" cy="1975.0" r="2.1" fill="#0000d0"/>
<circle cx="1006.5" cy="1829.0" r="2.1" fill="#0000d0"/>
<circle cx="1068.3" cy="1830.0" r="2.1" fill="#0000d0"/>
<circle cx="157.2" cy="435.1" r="2.35" fill="#111"/>
<circle cx="160.2" cy="411.8" r="2.35" fill="#111"/>
<circle cx="162.9" cy="396.4" r="2.35" fill="#111"/>
<circle cx="165.6" cy="387.4" r="2.35" fill="#111"/>
<circle cx="168.4" cy="379.9" r="2.35" fill="#111"/>
<circle cx="171.0" cy="374.9" r="2.35" fill="#111"/>
<circle cx="173.7" cy="377.4" r="2.35" fill="#111"/>
<circle cx="176.5" cy="375.6" r="2.35" fill="#111"/>
<circle cx="179.3" cy="374.3" r="2.35" fill="#111"/>
<circle cx="182.2" cy="374.7" r="2.35" fill="#111"/>
<circle cx="185.0" cy="383.9" r="2.35" fill="#111"/>
<circle cx="187.7" cy="384.3" r="2.35" fill="#111"/>
<circle cx="190.2" cy="414.9" r="2.35" fill="#111"/>
<circle cx="193.1" cy="422.1" r="2.35" fill="#111"/>
<circle cx="196.0" cy="433.9" r="2.35" fill="#111"/>
<circle cx="199.0" cy="428.6" r="2.35" fill="#111"/>
<circle cx="201.2" cy="451.7" r="2.35" fill="#111"/>
<circle cx="204.1" cy="457.1" r="2.35" fill="#111"/>
<circle cx="206.8" cy="465.5" r="2.35" fill="#111"/>
<circle cx="209.9" cy="452.6" r="2.35" fill="#111"/>
<circle cx="214.9" cy="460.5" r="2.35" fill="#111"/>
<circle cx="218.1" cy="460.5" r="2.35" fill="#111"/>
<circle cx="220.6" cy="468.8" r="2.35" fill="#111"/>
<circle cx="223.4" cy="471.7" r="2.35" fill="#111"/>
<circle cx="226.4" cy="477.3" r="2.35" fill="#111"/>
<circle cx="229.3" cy="465.1" r="2.35" fill="#111"/>
<circle cx="232.2" cy="462.1" r="2.35" fill="#111"/>
<circle cx="234.7" cy="436.4" r="2.35" fill="#111"/>
<circle cx="237.4" cy="425.5" r="2.35" fill="#111"/>
<circle cx="240.2" cy="393.0" r="2.35" fill="#111"/>
<circle cx="243.0" cy="399.9" r="2.35" fill="#111"/>
<circle cx="245.9" cy="398.0" r="2.35" fill="#111"/>
<circle cx="251.4" cy="403.9" r="2.35" fill="#111"/>
<circle cx="254.0" cy="406.4" r="2.35" fill="#111"/>
<circle cx="256.8" cy="414.6" r="2.35" fill="#111"/>
<circle cx="259.7" cy="418.4" r="2.35" fill="#111"/>
<circle cx="262.4" cy="395.5" r="2.35" fill="#111"/>
<circle cx="265.1" cy="389.7" r="2.35" fill="#111"/>
<circle cx="267.8" cy="391.2" r="2.35" fill="#111"/>
<circle cx="270.5" cy="398.0" r="2.35" fill="#111"/>
<circle cx="273.3" cy="375.6" r="2.35" fill="#111"/>
<circle cx="276.1" cy="374.7" r="2.35" fill="#111"/>
<circle cx="278.9" cy="365.6" r="2.35" fill="#111"/>
<circle cx="281.8" cy="374.3" r="2.35" fill="#111"/>
<circle cx="287.4" cy="382.7" r="2.35" fill="#111"/>
<circle cx="289.5" cy="412.6" r="2.35" fill="#111"/>
<circle cx="292.7" cy="416.1" r="2.35" fill="#111"/>
<circle cx="295.6" cy="413.6" r="2.35" fill="#111"/>
<circle cx="298.1" cy="401.4" r="2.35" fill="#111"/>
<circle cx="301.0" cy="403.0" r="2.35" fill="#111"/>
<circle cx="303.7" cy="391.2" r="2.35" fill="#111"/>
<circle cx="306.5" cy="361.4" r="2.35" fill="#111"/>
<circle cx="309.4" cy="351.5" r="2.35" fill="#111"/>
<circle cx="312.2" cy="354.0" r="2.35" fill="#111"/>
<circle cx="315.0" cy="366.8" r="2.35" fill="#111"/>
<circle cx="317.5" cy="376.8" r="2.35" fill="#111"/>
<circle cx="322.8" cy="382.7" r="2.35" fill="#111"/>
<circle cx="325.6" cy="392.2" r="2.35" fill="#111"/>
<circle cx="328.5" cy="391.2" r="2.35" fill="#111"/>
<circle cx="331.2" cy="386.2" r="2.35" fill="#111"/>
<circle cx="334.1" cy="381.4" r="2.35" fill="#111"/>
<circle cx="336.8" cy="384.9" r="2.35" fill="#111"/>
<circle cx="339.6" cy="382.7" r="2.35" fill="#111"/>
<circle cx="342.4" cy="383.4" r="2.35" fill="#111"/>
<circle cx="345.2" cy="368.1" r="2.35" fill="#111"/>
<circle cx="348.1" cy="353.7" r="2.35" fill="#111"/>
<circle cx="350.6" cy="341.5" r="2.35" fill="#111"/>
<circle cx="353.4" cy="346.5" r="2.35" fill="#111"/>
<circle cx="359.1" cy="371.8" r="2.35" fill="#111"/>
<circle cx="361.8" cy="381.2" r="2.35" fill="#111"/>
<circle cx="364.7" cy="379.3" r="2.35" fill="#111"/>
<circle cx="367.2" cy="352.5" r="2.35" fill="#111"/>
<circle cx="369.9" cy="347.7" r="2.35" fill="#111"/>
<circle cx="372.8" cy="358.9" r="2.35" fill="#111"/>
<circle cx="375.5" cy="388.7" r="2.35" fill="#111"/>
<circle cx="378.4" cy="389.7" r="2.35" fill="#111"/>
<circle cx="381.2" cy="372.7" r="2.35" fill="#111"/>
<circle cx="383.9" cy="347.7" r="2.35" fill="#111"/>
<circle cx="386.8" cy="350.2" r="2.35" fill="#111"/>
<circle cx="389.5" cy="375.2" r="2.35" fill="#111"/>
<circle cx="394.9" cy="400.9" r="2.35" fill="#111"/>
<circle cx="397.6" cy="399.9" r="2.35" fill="#111"/>
<circle cx="400.1" cy="386.8" r="2.35" fill="#111"/>
<circle cx="403.0" cy="388.4" r="2.35" fill="#111"/>
<circle cx="405.8" cy="388.9" r="2.35" fill="#111"/>
<circle cx="408.6" cy="396.2" r="2.35" fill="#111"/>
<circle cx="411.4" cy="391.2" r="2.35" fill="#111"/>
<circle cx="414.3" cy="408.7" r="2.35" fill="#111"/>
<circle cx="417.0" cy="407.7" r="2.35" fill="#111"/>
<circle cx="419.6" cy="403.7" r="2.35" fill="#111"/>
<circle cx="422.4" cy="404.9" r="2.35" fill="#111"/>
<circle cx="424.5" cy="426.1" r="2.35" fill="#111"/>
<circle cx="431.0" cy="433.0" r="2.35" fill="#111"/>
<circle cx="433.7" cy="432.1" r="2.35" fill="#111"/>
<circle cx="436.2" cy="401.8" r="2.35" fill="#111"/>
<circle cx="439.0" cy="379.3" r="2.35" fill="#111"/>
<circle cx="441.9" cy="358.4" r="2.35" fill="#111"/>
<circle cx="444.7" cy="373.4" r="2.35" fill="#111"/>
<circle cx="447.5" cy="389.3" r="2.35" fill="#111"/>
<circle cx="450.0" cy="411.2" r="2.35" fill="#111"/>
<circle cx="452.7" cy="421.1" r="2.35" fill="#111"/>
<circle cx="455.6" cy="421.8" r="2.35" fill="#111"/>
<circle cx="458.3" cy="415.1" r="2.35" fill="#111"/>
<circle cx="461.2" cy="410.9" r="2.35" fill="#111"/>
<circle cx="466.6" cy="418.6" r="2.35" fill="#111"/>
<circle cx="469.6" cy="429.9" r="2.35" fill="#111"/>
<circle cx="472.5" cy="438.6" r="2.35" fill="#111"/>
<circle cx="475.0" cy="459.9" r="2.35" fill="#111"/>
<circle cx="477.7" cy="483.0" r="2.35" fill="#111"/>
<circle cx="480.8" cy="494.6" r="2.35" fill="#111"/>
<circle cx="483.4" cy="470.5" r="2.35" fill="#111"/>
<circle cx="486.2" cy="432.6" r="2.35" fill="#111"/>
<circle cx="488.7" cy="398.4" r="2.35" fill="#111"/>
<circle cx="491.6" cy="391.2" r="2.35" fill="#111"/>
<circle cx="494.3" cy="375.6" r="2.35" fill="#111"/>
<circle cx="497.2" cy="370.9" r="2.35" fill="#111"/>
<circle cx="502.4" cy="367.2" r="2.35" fill="#111"/>
<circle cx="505.3" cy="375.6" r="2.35" fill="#111"/>
<circle cx="508.0" cy="392.4" r="2.35" fill="#111"/>
<circle cx="510.9" cy="413.0" r="2.35" fill="#111"/>
<circle cx="513.7" cy="413.0" r="2.35" fill="#111"/>
<circle cx="516.4" cy="402.2" r="2.35" fill="#111"/>
<circle cx="519.3" cy="390.5" r="2.35" fill="#111"/>
<circle cx="522.0" cy="383.9" r="2.35" fill="#111"/>
<circle cx="524.9" cy="383.1" r="2.35" fill="#111"/>
<circle cx="527.4" cy="382.4" r="2.35" fill="#111"/>
<circle cx="530.5" cy="398.0" r="2.35" fill="#111"/>
<circle cx="533.3" cy="394.9" r="2.35" fill="#111"/>
<circle cx="538.6" cy="374.9" r="2.35" fill="#111"/>
<circle cx="541.4" cy="374.9" r="2.35" fill="#111"/>
<circle cx="543.9" cy="374.9" r="2.35" fill="#111"/>
<circle cx="546.8" cy="388.0" r="2.35" fill="#111"/>
<circle cx="549.6" cy="375.2" r="2.35" fill="#111"/>
<circle cx="552.4" cy="379.9" r="2.35" fill="#111"/>
<circle cx="555.1" cy="383.9" r="2.35" fill="#111"/>
<circle cx="558.0" cy="388.0" r="2.35" fill="#111"/>
<circle cx="559.9" cy="393.7" r="2.35" fill="#111"/>
<circle cx="563.7" cy="394.3" r="2.35" fill="#111"/>
<circle cx="566.9" cy="392.2" r="2.35" fill="#111"/>
<circle cx="569.7" cy="382.2" r="2.35" fill="#111"/>
<circle cx="575.4" cy="376.4" r="2.35" fill="#111"/>
<circle cx="578.4" cy="367.2" r="2.35" fill="#111"/>
<circle cx="581.0" cy="351.2" r="2.35" fill="#111"/>
<circle cx="583.7" cy="341.5" r="2.35" fill="#111"/>
<circle cx="586.6" cy="350.6" r="2.35" fill="#111"/>
<circle cx="589.1" cy="365.6" r="2.35" fill="#111"/>
<circle cx="592.1" cy="375.6" r="2.35" fill="#111"/>
<circle cx="594.7" cy="383.1" r="2.35" fill="#111"/>
<circle cx="597.7" cy="377.2" r="2.35" fill="#111"/>
<circle cx="600.6" cy="374.3" r="2.35" fill="#111"/>
<circle cx="603.1" cy="369.3" r="2.35" fill="#111"/>
<circle cx="606.0" cy="357.4" r="2.35" fill="#111"/>
<circle cx="611.4" cy="353.1" r="2.35" fill="#111"/>
<circle cx="614.1" cy="360.2" r="2.35" fill="#111"/>
<circle cx="616.8" cy="367.7" r="2.35" fill="#111"/>
<circle cx="619.6" cy="362.4" r="2.35" fill="#111"/>
<circle cx="622.4" cy="357.4" r="2.35" fill="#111"/>
<circle cx="625.3" cy="372.7" r="2.35" fill="#111"/>
<circle cx="628.1" cy="385.2" r="2.35" fill="#111"/>
<circle cx="630.6" cy="393.7" r="2.35" fill="#111"/>
<circle cx="633.3" cy="399.9" r="2.35" fill="#111"/>
<circle cx="636.2" cy="403.4" r="2.35" fill="#111"/>
<circle cx="638.9" cy="389.7" r="2.35" fill="#111"/>
<circle cx="641.8" cy="389.3" r="2.35" fill="#111"/>
<circle cx="647.2" cy="404.9" r="2.35" fill="#111"/>
<circle cx="650.2" cy="409.7" r="2.35" fill="#111"/>
<circle cx="652.8" cy="423.4" r="2.35" fill="#111"/>
<circle cx="655.5" cy="413.6" r="2.35" fill="#111"/>
<circle cx="658.4" cy="410.9" r="2.35" fill="#111"/>
<circle cx="661.2" cy="388.0" r="2.35" fill="#111"/>
<circle cx="663.9" cy="376.8" r="2.35" fill="#111"/>
<circle cx="666.5" cy="374.7" r="2.35" fill="#111"/>
<circle cx="669.3" cy="365.2" r="2.35" fill="#111"/>
<circle cx="672.4" cy="368.1" r="2.35" fill="#111"/>
<circle cx="675.1" cy="370.6" r="2.35" fill="#111"/>
<circle cx="678.0" cy="378.1" r="2.35" fill="#111"/>
<circle cx="683.0" cy="365.6" r="2.35" fill="#111"/>
<circle cx="685.9" cy="341.5" r="2.35" fill="#111"/>
<circle cx="688.6" cy="326.9" r="2.35" fill="#111"/>
<circle cx="691.8" cy="320.0" r="2.35" fill="#111"/>
<circle cx="694.3" cy="340.6" r="2.35" fill="#111"/>
<circle cx="697.2" cy="350.6" r="2.35" fill="#111"/>
<circle cx="699.7" cy="374.9" r="2.35" fill="#111"/>
<circle cx="702.5" cy="368.9" r="2.35" fill="#111"/>
<circle cx="705.2" cy="376.2" r="2.35" fill="#111"/>
<circle cx="708.1" cy="372.4" r="2.35" fill="#111"/>
<circle cx="711.0" cy="378.4" r="2.35" fill="#111"/>
<circle cx="713.7" cy="352.2" r="2.35" fill="#111"/>
<circle cx="719.0" cy="326.2" r="2.35" fill="#111"/>
<circle cx="721.8" cy="309.0" r="2.35" fill="#111"/>
<circle cx="724.7" cy="335.0" r="2.35" fill="#111"/>
<circle cx="727.5" cy="354.3" r="2.35" fill="#111"/>
<circle cx="730.2" cy="368.4" r="2.35" fill="#111"/>
<circle cx="733.1" cy="360.2" r="2.35" fill="#111"/>
<circle cx="735.8" cy="357.4" r="2.35" fill="#111"/>
<circle cx="738.7" cy="365.9" r="2.35" fill="#111"/>
<circle cx="741.2" cy="378.9" r="2.35" fill="#111"/>
<circle cx="744.0" cy="396.2" r="2.35" fill="#111"/>
<circle cx="746.8" cy="404.3" r="2.35" fill="#111"/>
<circle cx="749.7" cy="395.5" r="2.35" fill="#111"/>
<circle cx="754.9" cy="382.4" r="2.35" fill="#111"/>
<circle cx="757.7" cy="358.7" r="2.35" fill="#111"/>
<circle cx="760.6" cy="342.7" r="2.35" fill="#111"/>
<circle cx="763.4" cy="330.0" r="2.35" fill="#111"/>
<circle cx="766.2" cy="339.0" r="2.35" fill="#111"/>
<circle cx="768.7" cy="366.2" r="2.35" fill="#111"/>
<circle cx="771.6" cy="378.9" r="2.35" fill="#111"/>
<circle cx="774.5" cy="389.7" r="2.35" fill="#111"/>
<circle cx="777.4" cy="387.4" r="2.35" fill="#111"/>
<circle cx="779.9" cy="385.9" r="2.35" fill="#111"/>
<circle cx="783.0" cy="388.0" r="2.35" fill="#111"/>
<circle cx="785.5" cy="377.2" r="2.35" fill="#111"/>
<circle cx="790.9" cy="368.4" r="2.35" fill="#111"/>
<circle cx="793.7" cy="343.5" r="2.35" fill="#111"/>
<circle cx="796.4" cy="341.8" r="2.35" fill="#111"/>
<circle cx="799.3" cy="343.1" r="2.35" fill="#111"/>
<circle cx="802.0" cy="363.4" r="2.35" fill="#111"/>
<circle cx="804.9" cy="369.7" r="2.35" fill="#111"/>
<circle cx="807.6" cy="379.9" r="2.35" fill="#111"/>
<circle cx="810.5" cy="379.7" r="2.35" fill="#111"/>
<circle cx="813.3" cy="398.4" r="2.35" fill="#111"/>
<circle cx="815.9" cy="428.6" r="2.35" fill="#111"/>
<circle cx="818.6" cy="446.4" r="2.35" fill="#111"/>
<circle cx="821.4" cy="443.4" r="2.35" fill="#111"/>
<circle cx="827.0" cy="437.4" r="2.35" fill="#111"/>
<circle cx="829.6" cy="439.9" r="2.35" fill="#111"/>
<circle cx="832.5" cy="456.7" r="2.35" fill="#111"/>
<circle cx="835.2" cy="441.4" r="2.35" fill="#111"/>
<circle cx="837.9" cy="423.0" r="2.35" fill="#111"/>
<circle cx="840.6" cy="395.9" r="2.35" fill="#111"/>
<circle cx="843.7" cy="403.4" r="2.35" fill="#111"/>
<circle cx="846.5" cy="427.4" r="2.35" fill="#111"/>
<circle cx="849.1" cy="453.0" r="2.35" fill="#111"/>
<circle cx="851.6" cy="468.3" r="2.35" fill="#111"/>
<circle cx="854.6" cy="472.1" r="2.35" fill="#111"/>
<circle cx="857.5" cy="473.0" r="2.35" fill="#111"/>
<circle cx="862.8" cy="474.6" r="2.35" fill="#111"/>
<circle cx="865.6" cy="481.1" r="2.35" fill="#111"/>
<circle cx="868.3" cy="489.6" r="2.35" fill="#111"/>
<circle cx="871.2" cy="498.3" r="2.35" fill="#111"/>
<circle cx="874.0" cy="482.1" r="2.35" fill="#111"/>
<circle cx="876.8" cy="465.5" r="2.35" fill="#111"/>
<circle cx="879.6" cy="449.2" r="2.35" fill="#111"/>
<circle cx="882.2" cy="455.5" r="2.35" fill="#111"/>
<circle cx="884.9" cy="444.2" r="2.35" fill="#111"/>
<circle cx="887.7" cy="445.5" r="2.35" fill="#111"/>
<circle cx="890.6" cy="444.6" r="2.35" fill="#111"/>
<circle cx="893.4" cy="464.6" r="2.35" fill="#111"/>
<circle cx="898.7" cy="469.2" r="2.35" fill="#111"/>
<circle cx="901.4" cy="480.8" r="2.35" fill="#111"/>
<circle cx="904.3" cy="488.0" r="2.35" fill="#111"/>
<circle cx="907.1" cy="499.8" r="2.35" fill="#111"/>
<circle cx="910.3" cy="498.6" r="2.35" fill="#111"/>
<circle cx="912.8" cy="477.3" r="2.35" fill="#111"/>
<circle cx="915.5" cy="428.4" r="2.35" fill="#111"/>
<circle cx="918.0" cy="403.7" r="2.35" fill="#111"/>
<circle cx="920.8" cy="387.4" r="2.35" fill="#111"/>
<circle cx="923.7" cy="384.7" r="2.35" fill="#111"/>
<circle cx="926.5" cy="383.7" r="2.35" fill="#111"/>
<circle cx="929.0" cy="392.2" r="2.35" fill="#111"/>
<circle cx="934.5" cy="405.9" r="2.35" fill="#111"/>
<circle cx="937.4" cy="393.4" r="2.35" fill="#111"/>
<circle cx="940.1" cy="383.9" r="2.35" fill="#111"/>
<circle cx="943.0" cy="383.1" r="2.35" fill="#111"/>
<circle cx="945.8" cy="384.3" r="2.35" fill="#111"/>
<circle cx="948.4" cy="384.9" r="2.35" fill="#111"/>
<circle cx="951.4" cy="379.7" r="2.35" fill="#111"/>
<circle cx="954.0" cy="369.3" r="2.35" fill="#111"/>
<circle cx="956.8" cy="381.8" r="2.35" fill="#111"/>
<circle cx="959.6" cy="371.8" r="2.35" fill="#111"/>
<circle cx="962.1" cy="387.7" r="2.35" fill="#111"/>
<circle cx="964.6" cy="392.4" r="2.35" fill="#111"/>
<circle cx="970.6" cy="424.9" r="2.35" fill="#111"/>
<circle cx="973.4" cy="437.1" r="2.35" fill="#111"/>
<circle cx="976.2" cy="431.1" r="2.35" fill="#111"/>
<circle cx="978.7" cy="397.2" r="2.35" fill="#111"/>
<circle cx="981.6" cy="366.4" r="2.35" fill="#111"/>
<circle cx="984.4" cy="346.8" r="2.35" fill="#111"/>
<circle cx="987.2" cy="347.5" r="2.35" fill="#111"/>
<circle cx="990.0" cy="375.6" r="2.35" fill="#111"/>
<circle cx="992.7" cy="401.8" r="2.35" fill="#111"/>
<circle cx="995.3" cy="423.4" r="2.35" fill="#111"/>
<circle cx="998.3" cy="408.0" r="2.35" fill="#111"/>
<circle cx="1001.0" cy="386.2" r="2.35" fill="#111"/>
<circle cx="1006.5" cy="368.1" r="2.35" fill="#111"/>
<circle cx="1009.3" cy="353.7" r="2.35" fill="#111"/>
<circle cx="1012.1" cy="340.0" r="2.35" fill="#111"/>
<circle cx="1014.7" cy="334.3" r="2.35" fill="#111"/>
<circle cx="1017.4" cy="334.3" r="2.35" fill="#111"/>
<circle cx="1020.3" cy="338.1" r="2.35" fill="#111"/>
<circle cx="1023.3" cy="345.6" r="2.35" fill="#111"/>
<circle cx="1025.9" cy="368.7" r="2.35" fill="#111"/>
<circle cx="1028.4" cy="383.1" r="2.35" fill="#111"/>
<circle cx="1031.2" cy="389.3" r="2.35" fill="#111"/>
<circle cx="1034.1" cy="368.4" r="2.35" fill="#111"/>
<circle cx="1037.1" cy="345.6" r="2.35" fill="#111"/>
<circle cx="1042.4" cy="324.7" r="2.35" fill="#111"/>
<circle cx="1045.3" cy="324.0" r="2.35" fill="#111"/>
<circle cx="1048.0" cy="330.0" r="2.35" fill="#111"/>
<circle cx="1050.8" cy="330.2" r="2.35" fill="#111"/>
<circle cx="1053.4" cy="336.5" r="2.35" fill="#111"/>
<circle cx="1056.2" cy="344.3" r="2.35" fill="#111"/>
<circle cx="1059.0" cy="364.7" r="2.35" fill="#111"/>
<circle cx="1061.8" cy="358.7" r="2.35" fill="#111"/>
<circle cx="1064.7" cy="361.4" r="2.35" fill="#111"/>
<circle cx="1067.4" cy="364.9" r="2.35" fill="#111"/>
<circle cx="1070.2" cy="389.9" r="2.35" fill="#111"/>
<polyline points="157.2,435.1 160.2,411.8 162.9,396.4 165.6,387.4 168.4,379.9 171.0,374.9 173.7,377.4 176.5,375.6 179.3,374.3 182.2,374.7 185.0,383.9 187.7,384.3 190.2,414.9 193.1,422.1 196.0,433.9 199.0,428.6 201.2,451.7 204.1,457.1 206.8,465.5 209.9,452.6 214.9,460.5 218.1,460.5 220.6,468.8 223.4,471.7 226.4,477.3 229.3,465.1 232.2,462.1 234.7,436.4 237.4,425.5 240.2,393.0 243.0,399.9 245.9,398.0 251.4,403.9 254.0,406.4 256.8,414.6 259.7,418.4 262.4,395.5 265.1,389.7 267.8,391.2 270.5,398.0 273.3,375.6 276.1,374.7 278.9,365.6 281.8,374.3 287.4,382.7 289.5,412.6 292.7,416.1 295.6,413.6 298.1,401.4 301.0,403.0 303.7,391.2 306.5,361.4 309.4,351.5 312.2,354.0 315.0,366.8 317.5,376.8 322.8,382.7 325.6,392.2 328.5,391.2 331.2,386.2 334.1,381.4 336.8,384.9 339.6,382.7 342.4,383.4 345.2,368.1 348.1,353.7 350.6,341.5 353.4,346.5 359.1,371.8 361.8,381.2 364.7,379.3 367.2,352.5 369.9,347.7 372.8,358.9 375.5,388.7 378.4,389.7 381.2,372.7 383.9,347.7 386.8,350.2 389.5,375.2 394.9,400.9 397.6,399.9 400.1,386.8 403.0,388.4 405.8,388.9 408.6,396.2 411.4,391.2 414.3,408.7 417.0,407.7 419.6,403.7 422.4,404.9 424.5,426.1 431.0,433.0 433.7,432.1 436.2,401.8 439.0,379.3 441.9,358.4 444.7,373.4 447.5,389.3 450.0,411.2 452.7,421.1 455.6,421.8 458.3,415.1 461.2,410.9 466.6,418.6 469.6,429.9 472.5,438.6 475.0,459.9 477.7,483.0 480.8,494.6 483.4,470.5 486.2,432.6 488.7,398.4 491.6,391.2 494.3,375.6 497.2,370.9 502.4,367.2 505.3,375.6 508.0,392.4 510.9,413.0 513.7,413.0 516.4,402.2 519.3,390.5 522.0,383.9 524.9,383.1 527.4,382.4 530.5,398.0 533.3,394.9 538.6,374.9 541.4,374.9 543.9,374.9 546.8,388.0 549.6,375.2 552.4,379.9 555.1,383.9 558.0,388.0 559.9,393.7 563.7,394.3 566.9,392.2 569.7,382.2 575.4,376.4 578.4,367.2 581.0,351.2 583.7,341.5 586.6,350.6 589.1,365.6 592.1,375.6 594.7,383.1 597.7,377.2 600.6,374.3 603.1,369.3 606.0,357.4 611.4,353.1 614.1,360.2 616.8,367.7 619.6,362.4 622.4,357.4 625.3,372.7 628.1,385.2 630.6,393.7 633.3,399.9 636.2,403.4 638.9,389.7 641.8,389.3 647.2,404.9 650.2,409.7 652.8,423.4 655.5,413.6 658.4,410.9 661.2,388.0 663.9,376.8 666.5,374.7 669.3,365.2 672.4,368.1 675.1,370.6 678.0,378.1 683.0,365.6 685.9,341.5 688.6,326.9 691.8,320.0 694.3,340.6 697.2,350.6 699.7,374.9 702.5,368.9 705.2,376.2 708.1,372.4 711.0,378.4 713.7,352.2 719.0,326.2 721.8,309.0 724.7,335.0 727.5,354.3 730.2,368.4 733.1,360.2 735.8,357.4 738.7,365.9 741.2,378.9 744.0,396.2 746.8,404.3 749.7,395.5 754.9,382.4 757.7,358.7 760.6,342.7 763.4,330.0 766.2,339.0 768.7,366.2 771.6,378.9 774.5,389.7 777.4,387.4 779.9,385.9 783.0,388.0 785.5,377.2 790.9,368.4 793.7,343.5 796.4,341.8 799.3,343.1 802.0,363.4 804.9,369.7 807.6,379.9 810.5,379.7 813.3,398.4 815.9,428.6 818.6,446.4 821.4,443.4 827.0,437.4 829.6,439.9 832.5,456.7 835.2,441.4 837.9,423.0 840.6,395.9 843.7,403.4 846.5,427.4 849.1,453.0 851.6,468.3 854.6,472.1 857.5,473.0 862.8,474.6 865.6,481.1 868.3,489.6 871.2,498.3 874.0,482.1 876.8,465.5 879.6,449.2 882.2,455.5 884.9,444.2 887.7,445.5 890.6,444.6 893.4,464.6 898.7,469.2 901.4,480.8 904.3,488.0 907.1,499.8 910.3,498.6 912.8,477.3 915.5,428.4 918.0,403.7 920.8,387.4 923.7,384.7 926.5,383.7 929.0,392.2 934.5,405.9 937.4,393.4 940.1,383.9 943.0,383.1 945.8,384.3 948.4,384.9 951.4,379.7 954.0,369.3 956.8,381.8 959.6,371.8 962.1,387.7 964.6,392.4 970.6,424.9 973.4,437.1 976.2,431.1 978.7,397.2 981.6,366.4 984.4,346.8 987.2,347.5 990.0,375.6 992.7,401.8 995.3,423.4 998.3,408.0 1001.0,386.2 1006.5,368.1 1009.3,353.7 1012.1,340.0 1014.7,334.3 1017.4,334.3 1020.3,338.1 1023.3,345.6 1025.9,368.7 1028.4,383.1 1031.2,389.3 1034.1,368.4 1037.1,345.6 1042.4,324.7 1045.3,324.0 1048.0,330.0 1050.8,330.2 1053.4,336.5 1056.2,344.3 1059.0,364.7 1061.8,358.7 1064.7,361.4 1067.4,364.9 1070.2,389.9" fill="none" stroke="#2020d0" stroke-width="1.25" stroke-linejoin="round"/>
<circle cx="157.2" cy="715.7" r="2.35" fill="#111"/>
<circle cx="160.2" cy="710.4" r="2.35" fill="#111"/>
<circle cx="162.9" cy="706.4" r="2.35" fill="#111"/>
<circle cx="165.6" cy="699.5" r="2.35" fill="#111"/>
<circle cx="168.4" cy="704.1" r="2.35" fill="#111"/>
<circle cx="171.2" cy="708.6" r="2.35" fill="#111"/>
<circle cx="174.0" cy="714.1" r="2.35" fill="#111"/>
<circle cx="179.3" cy="717.0" r="2.35" fill="#111"/>
<circle cx="182.2" cy="715.4" r="2.35" fill="#111"/>
<circle cx="185.0" cy="701.6" r="2.35" fill="#111"/>
<circle cx="187.7" cy="698.2" r="2.35" fill="#111"/>
<circle cx="190.6" cy="705.7" r="2.35" fill="#111"/>
<circle cx="193.3" cy="719.1" r="2.35" fill="#111"/>
<circle cx="196.2" cy="709.9" r="2.35" fill="#111"/>
<circle cx="199.0" cy="675.8" r="2.35" fill="#111"/>
<circle cx="201.5" cy="661.6" r="2.35" fill="#111"/>
<circle cx="204.3" cy="665.8" r="2.35" fill="#111"/>
<circle cx="207.2" cy="680.4" r="2.35" fill="#111"/>
<circle cx="209.9" cy="697.4" r="2.35" fill="#111"/>
<circle cx="215.2" cy="695.7" r="2.35" fill="#111"/>
<circle cx="218.1" cy="687.6" r="2.35" fill="#111"/>
<circle cx="220.8" cy="674.5" r="2.35" fill="#111"/>
<circle cx="223.7" cy="657.7" r="2.35" fill="#111"/>
<circle cx="226.4" cy="648.3" r="2.35" fill="#111"/>
<circle cx="229.1" cy="625.8" r="2.35" fill="#111"/>
<circle cx="232.1" cy="622.7" r="2.35" fill="#111"/>
<circle cx="234.7" cy="630.8" r="2.35" fill="#111"/>
<circle cx="237.4" cy="649.2" r="2.35" fill="#111"/>
<circle cx="240.2" cy="647.7" r="2.35" fill="#111"/>
<circle cx="243.0" cy="665.4" r="2.35" fill="#111"/>
<circle cx="245.8" cy="681.4" r="2.35" fill="#111"/>
<circle cx="251.2" cy="722.8" r="2.35" fill="#111"/>
<circle cx="254.0" cy="721.6" r="2.35" fill="#111"/>
<circle cx="256.8" cy="712.4" r="2.35" fill="#111"/>
<circle cx="259.5" cy="703.9" r="2.35" fill="#111"/>
<circle cx="262.4" cy="713.6" r="2.35" fill="#111"/>
<circle cx="265.1" cy="719.8" r="2.35" fill="#111"/>
<circle cx="268.0" cy="721.1" r="2.35" fill="#111"/>
<circle cx="270.8" cy="721.6" r="2.35" fill="#111"/>
<circle cx="273.4" cy="717.3" r="2.35" fill="#111"/>
<circle cx="276.1" cy="734.8" r="2.35" fill="#111"/>
<circle cx="279.0" cy="717.6" r="2.35" fill="#111"/>
<circle cx="281.8" cy="721.1" r="2.35" fill="#111"/>
<circle cx="287.1" cy="711.1" r="2.35" fill="#111"/>
<circle cx="289.6" cy="722.6" r="2.35" fill="#111"/>
<circle cx="292.5" cy="733.6" r="2.35" fill="#111"/>
<circle cx="295.4" cy="735.7" r="2.35" fill="#111"/>
<circle cx="298.1" cy="747.6" r="2.35" fill="#111"/>
<circle cx="301.0" cy="743.2" r="2.35" fill="#111"/>
<circle cx="303.7" cy="727.8" r="2.35" fill="#111"/>
<circle cx="306.5" cy="722.8" r="2.35" fill="#111"/>
<circle cx="309.4" cy="726.6" r="2.35" fill="#111"/>
<circle cx="312.2" cy="728.2" r="2.35" fill="#111"/>
<circle cx="315.0" cy="710.4" r="2.35" fill="#111"/>
<circle cx="317.5" cy="688.9" r="2.35" fill="#111"/>
<circle cx="323.1" cy="683.3" r="2.35" fill="#111"/>
<circle cx="326.0" cy="687.6" r="2.35" fill="#111"/>
<circle cx="328.5" cy="700.1" r="2.35" fill="#111"/>
<circle cx="331.2" cy="707.0" r="2.35" fill="#111"/>
<circle cx="334.0" cy="713.6" r="2.35" fill="#111"/>
<circle cx="336.8" cy="707.4" r="2.35" fill="#111"/>
<circle cx="339.6" cy="694.9" r="2.35" fill="#111"/>
<circle cx="342.4" cy="695.4" r="2.35" fill="#111"/>
<circle cx="345.2" cy="700.7" r="2.35" fill="#111"/>
<circle cx="348.1" cy="703.2" r="2.35" fill="#111"/>
<circle cx="350.8" cy="693.2" r="2.35" fill="#111"/>
<circle cx="353.4" cy="679.9" r="2.35" fill="#111"/>
<circle cx="358.9" cy="673.9" r="2.35" fill="#111"/>
<circle cx="361.6" cy="682.6" r="2.35" fill="#111"/>
<circle cx="364.6" cy="683.6" r="2.35" fill="#111"/>
<circle cx="367.2" cy="694.1" r="2.35" fill="#111"/>
<circle cx="369.9" cy="703.2" r="2.35" fill="#111"/>
<circle cx="372.7" cy="715.1" r="2.35" fill="#111"/>
<circle cx="375.5" cy="713.9" r="2.35" fill="#111"/>
<circle cx="378.3" cy="694.1" r="2.35" fill="#111"/>
<circle cx="381.2" cy="693.2" r="2.35" fill="#111"/>
<circle cx="383.9" cy="682.9" r="2.35" fill="#111"/>
<circle cx="386.8" cy="657.0" r="2.35" fill="#111"/>
<circle cx="389.5" cy="645.4" r="2.35" fill="#111"/>
<circle cx="394.9" cy="652.0" r="2.35" fill="#111"/>
<circle cx="397.8" cy="672.0" r="2.35" fill="#111"/>
<circle cx="400.5" cy="650.8" r="2.35" fill="#111"/>
<circle cx="403.0" cy="625.4" r="2.35" fill="#111"/>
<circle cx="405.8" cy="620.4" r="2.35" fill="#111"/>
<circle cx="408.6" cy="642.4" r="2.35" fill="#111"/>
<circle cx="411.5" cy="672.0" r="2.35" fill="#111"/>
<circle cx="414.3" cy="687.4" r="2.35" fill="#111"/>
<circle cx="417.1" cy="683.3" r="2.35" fill="#111"/>
<circle cx="419.9" cy="673.9" r="2.35" fill="#111"/>
<circle cx="422.4" cy="673.9" r="2.35" fill="#111"/>
<circle cx="424.6" cy="686.1" r="2.35" fill="#111"/>
<circle cx="431.0" cy="697.6" r="2.35" fill="#111"/>
<circle cx="433.7" cy="682.4" r="2.35" fill="#111"/>
<circle cx="436.2" cy="667.9" r="2.35" fill="#111"/>
<circle cx="439.0" cy="657.0" r="2.35" fill="#111"/>
<circle cx="441.9" cy="661.4" r="2.35" fill="#111"/>
<circle cx="444.6" cy="666.6" r="2.35" fill="#111"/>
<circle cx="447.2" cy="667.0" r="2.35" fill="#111"/>
<circle cx="450.0" cy="675.1" r="2.35" fill="#111"/>
<circle cx="452.7" cy="660.2" r="2.35" fill="#111"/>
<circle cx="455.6" cy="665.4" r="2.35" fill="#111"/>
<circle cx="458.5" cy="665.8" r="2.35" fill="#111"/>
<circle cx="461.2" cy="675.8" r="2.35" fill="#111"/>
<circle cx="466.6" cy="661.4" r="2.35" fill="#111"/>
<circle cx="469.6" cy="672.9" r="2.35" fill="#111"/>
<circle cx="472.5" cy="679.9" r="2.35" fill="#111"/>
<circle cx="475.0" cy="676.1" r="2.35" fill="#111"/>
<circle cx="477.8" cy="655.4" r="2.35" fill="#111"/>
<circle cx="480.3" cy="627.1" r="2.35" fill="#111"/>
<circle cx="483.1" cy="626.2" r="2.35" fill="#111"/>
<circle cx="485.9" cy="624.9" r="2.35" fill="#111"/>
<circle cx="488.7" cy="651.2" r="2.35" fill="#111"/>
<circle cx="491.6" cy="668.6" r="2.35" fill="#111"/>
<circle cx="494.3" cy="691.1" r="2.35" fill="#111"/>
<circle cx="497.2" cy="690.1" r="2.35" fill="#111"/>
<circle cx="502.4" cy="671.6" r="2.35" fill="#111"/>
<circle cx="505.3" cy="652.7" r="2.35" fill="#111"/>
<circle cx="508.0" cy="663.6" r="2.35" fill="#111"/>
<circle cx="510.9" cy="674.5" r="2.35" fill="#111"/>
<circle cx="513.7" cy="676.6" r="2.35" fill="#111"/>
<circle cx="516.2" cy="658.7" r="2.35" fill="#111"/>
<circle cx="519.3" cy="655.2" r="2.35" fill="#111"/>
<circle cx="522.0" cy="648.3" r="2.35" fill="#111"/>
<circle cx="524.7" cy="667.4" r="2.35" fill="#111"/>
<circle cx="527.4" cy="666.1" r="2.35" fill="#111"/>
<circle cx="530.3" cy="689.1" r="2.35" fill="#111"/>
<circle cx="532.8" cy="682.0" r="2.35" fill="#111"/>
<circle cx="538.4" cy="715.1" r="2.35" fill="#111"/>
<circle cx="541.1" cy="714.1" r="2.35" fill="#111"/>
<circle cx="544.0" cy="725.3" r="2.35" fill="#111"/>
<circle cx="546.8" cy="716.6" r="2.35" fill="#111"/>
<circle cx="549.9" cy="716.4" r="2.35" fill="#111"/>
<circle cx="552.4" cy="707.9" r="2.35" fill="#111"/>
<circle cx="555.1" cy="694.9" r="2.35" fill="#111"/>
<circle cx="557.8" cy="685.4" r="2.35" fill="#111"/>
<circle cx="559.9" cy="680.1" r="2.35" fill="#111"/>
<circle cx="564.0" cy="687.0" r="2.35" fill="#111"/>
<circle cx="566.9" cy="706.4" r="2.35" fill="#111"/>
<circle cx="569.7" cy="721.1" r="2.35" fill="#111"/>
<circle cx="575.4" cy="726.3" r="2.35" fill="#111"/>
<circle cx="578.4" cy="735.7" r="2.35" fill="#111"/>
<circle cx="581.0" cy="725.3" r="2.35" fill="#111"/>
<circle cx="584.0" cy="726.3" r="2.35" fill="#111"/>
<circle cx="586.6" cy="704.5" r="2.35" fill="#111"/>
<circle cx="589.3" cy="701.4" r="2.35" fill="#111"/>
<circle cx="592.1" cy="694.1" r="2.35" fill="#111"/>
<circle cx="595.0" cy="691.6" r="2.35" fill="#111"/>
<circle cx="597.7" cy="696.4" r="2.35" fill="#111"/>
<circle cx="600.3" cy="683.9" r="2.35" fill="#111"/>
<circle cx="603.1" cy="690.7" r="2.35" fill="#111"/>
<circle cx="605.8" cy="686.6" r="2.35" fill="#111"/>
<circle cx="611.6" cy="697.9" r="2.35" fill="#111"/>
<circle cx="614.3" cy="716.1" r="2.35" fill="#111"/>
<circle cx="616.8" cy="723.2" r="2.35" fill="#111"/>
<circle cx="619.6" cy="729.5" r="2.35" fill="#111"/>
<circle cx="622.2" cy="701.6" r="2.35" fill="#111"/>
<circle cx="625.2" cy="699.5" r="2.35" fill="#111"/>
<circle cx="628.1" cy="691.4" r="2.35" fill="#111"/>
<circle cx="630.8" cy="696.1" r="2.35" fill="#111"/>
<circle cx="633.4" cy="701.1" r="2.35" fill="#111"/>
<circle cx="636.4" cy="701.4" r="2.35" fill="#111"/>
<circle cx="639.0" cy="695.4" r="2.35" fill="#111"/>
<circle cx="642.0" cy="680.4" r="2.35" fill="#111"/>
<circle cx="647.4" cy="668.3" r="2.35" fill="#111"/>
<circle cx="650.2" cy="651.7" r="2.35" fill="#111"/>
<circle cx="653.0" cy="634.9" r="2.35" fill="#111"/>
<circle cx="655.8" cy="625.4" r="2.35" fill="#111"/>
<circle cx="658.4" cy="617.1" r="2.35" fill="#111"/>
<circle cx="661.2" cy="629.9" r="2.35" fill="#111"/>
<circle cx="664.0" cy="641.2" r="2.35" fill="#111"/>
<circle cx="666.8" cy="669.1" r="2.35" fill="#111"/>
<circle cx="669.5" cy="671.4" r="2.35" fill="#111"/>
<circle cx="672.0" cy="687.9" r="2.35" fill="#111"/>
<circle cx="674.9" cy="695.1" r="2.35" fill="#111"/>
<circle cx="677.8" cy="712.0" r="2.35" fill="#111"/>
<circle cx="683.0" cy="695.4" r="2.35" fill="#111"/>
<circle cx="685.9" cy="711.6" r="2.35" fill="#111"/>
<circle cx="688.9" cy="718.8" r="2.35" fill="#111"/>
<circle cx="691.8" cy="742.3" r="2.35" fill="#111"/>
<circle cx="694.5" cy="725.3" r="2.35" fill="#111"/>
<circle cx="697.2" cy="720.7" r="2.35" fill="#111"/>
<circle cx="700.0" cy="704.5" r="2.35" fill="#111"/>
<circle cx="702.5" cy="713.6" r="2.35" fill="#111"/>
<circle cx="705.2" cy="691.6" r="2.35" fill="#111"/>
<circle cx="708.1" cy="675.1" r="2.35" fill="#111"/>
<circle cx="710.9" cy="654.5" r="2.35" fill="#111"/>
<circle cx="713.7" cy="673.6" r="2.35" fill="#111"/>
<circle cx="719.0" cy="693.9" r="2.35" fill="#111"/>
<circle cx="721.8" cy="707.4" r="2.35" fill="#111"/>
<circle cx="724.7" cy="703.9" r="2.35" fill="#111"/>
<circle cx="727.2" cy="717.6" r="2.35" fill="#111"/>
<circle cx="730.2" cy="715.1" r="2.35" fill="#111"/>
<circle cx="732.8" cy="717.8" r="2.35" fill="#111"/>
<circle cx="735.8" cy="703.2" r="2.35" fill="#111"/>
<circle cx="738.5" cy="694.5" r="2.35" fill="#111"/>
<circle cx="741.2" cy="696.6" r="2.35" fill="#111"/>
<circle cx="744.1" cy="683.3" r="2.35" fill="#111"/>
<circle cx="746.8" cy="672.0" r="2.35" fill="#111"/>
<circle cx="749.6" cy="654.2" r="2.35" fill="#111"/>
<circle cx="754.9" cy="663.6" r="2.35" fill="#111"/>
<circle cx="757.8" cy="677.0" r="2.35" fill="#111"/>
<circle cx="760.6" cy="697.6" r="2.35" fill="#111"/>
<circle cx="763.4" cy="714.9" r="2.35" fill="#111"/>
<circle cx="765.9" cy="728.2" r="2.35" fill="#111"/>
<circle cx="768.9" cy="722.8" r="2.35" fill="#111"/>
<circle cx="771.8" cy="712.9" r="2.35" fill="#111"/>
<circle cx="774.5" cy="714.1" r="2.35" fill="#111"/>
<circle cx="777.4" cy="697.6" r="2.35" fill="#111"/>
<circle cx="779.9" cy="691.1" r="2.35" fill="#111"/>
<circle cx="782.7" cy="680.4" r="2.35" fill="#111"/>
<circle cx="785.3" cy="707.9" r="2.35" fill="#111"/>
<circle cx="790.9" cy="730.7" r="2.35" fill="#111"/>
<circle cx="793.7" cy="733.2" r="2.35" fill="#111"/>
<circle cx="796.5" cy="734.1" r="2.35" fill="#111"/>
<circle cx="799.3" cy="714.9" r="2.35" fill="#111"/>
<circle cx="802.1" cy="709.5" r="2.35" fill="#111"/>
<circle cx="804.9" cy="700.4" r="2.35" fill="#111"/>
<circle cx="807.6" cy="703.9" r="2.35" fill="#111"/>
<circle cx="810.5" cy="687.6" r="2.35" fill="#111"/>
<circle cx="813.3" cy="666.1" r="2.35" fill="#111"/>
<circle cx="815.9" cy="655.8" r="2.35" fill="#111"/>
<circle cx="818.6" cy="643.9" r="2.35" fill="#111"/>
<circle cx="821.5" cy="627.4" r="2.35" fill="#111"/>
<circle cx="827.0" cy="596.2" r="2.35" fill="#111"/>
<circle cx="829.5" cy="588.0" r="2.35" fill="#111"/>
<circle cx="832.5" cy="577.1" r="2.35" fill="#111"/>
<circle cx="835.2" cy="567.7" r="2.35" fill="#111"/>
<circle cx="838.1" cy="568.4" r="2.35" fill="#111"/>
<circle cx="840.9" cy="581.7" r="2.35" fill="#111"/>
<circle cx="843.5" cy="605.8" r="2.35" fill="#111"/>
<circle cx="846.5" cy="608.7" r="2.35" fill="#111"/>
<circle cx="849.1" cy="616.7" r="2.35" fill="#111"/>
<circle cx="851.9" cy="646.2" r="2.35" fill="#111"/>
<circle cx="854.6" cy="671.6" r="2.35" fill="#111"/>
<circle cx="857.5" cy="672.9" r="2.35" fill="#111"/>
<circle cx="862.7" cy="642.0" r="2.35" fill="#111"/>
<circle cx="865.6" cy="620.4" r="2.35" fill="#111"/>
<circle cx="868.3" cy="609.3" r="2.35" fill="#111"/>
<circle cx="871.2" cy="596.5" r="2.35" fill="#111"/>
<circle cx="874.0" cy="575.9" r="2.35" fill="#111"/>
<circle cx="876.8" cy="558.0" r="2.35" fill="#111"/>
<circle cx="879.6" cy="569.6" r="2.35" fill="#111"/>
<circle cx="882.2" cy="596.7" r="2.35" fill="#111"/>
<circle cx="884.9" cy="635.4" r="2.35" fill="#111"/>
<circle cx="887.7" cy="628.9" r="2.35" fill="#111"/>
<circle cx="890.6" cy="635.2" r="2.35" fill="#111"/>
<circle cx="893.4" cy="638.7" r="2.35" fill="#111"/>
<circle cx="898.7" cy="649.5" r="2.35" fill="#111"/>
<circle cx="901.4" cy="643.3" r="2.35" fill="#111"/>
<circle cx="904.1" cy="631.2" r="2.35" fill="#111"/>
<circle cx="907.1" cy="626.4" r="2.35" fill="#111"/>
<circle cx="909.9" cy="632.1" r="2.35" fill="#111"/>
<circle cx="912.8" cy="630.4" r="2.35" fill="#111"/>
<circle cx="915.3" cy="652.9" r="2.35" fill="#111"/>
<circle cx="918.0" cy="668.3" r="2.35" fill="#111"/>
<circle cx="920.8" cy="682.6" r="2.35" fill="#111"/>
<circle cx="923.7" cy="667.6" r="2.35" fill="#111"/>
<circle cx="926.4" cy="672.0" r="2.35" fill="#111"/>
<circle cx="929.0" cy="668.6" r="2.35" fill="#111"/>
<circle cx="934.7" cy="665.1" r="2.35" fill="#111"/>
<circle cx="937.1" cy="652.7" r="2.35" fill="#111"/>
<circle cx="940.1" cy="649.9" r="2.35" fill="#111"/>
<circle cx="943.0" cy="656.2" r="2.35" fill="#111"/>
<circle cx="945.8" cy="660.4" r="2.35" fill="#111"/>
<circle cx="948.6" cy="671.1" r="2.35" fill="#111"/>
<circle cx="951.4" cy="686.4" r="2.35" fill="#111"/>
<circle cx="954.3" cy="697.9" r="2.35" fill="#111"/>
<circle cx="956.8" cy="704.5" r="2.35" fill="#111"/>
<circle cx="959.5" cy="719.5" r="2.35" fill="#111"/>
<circle cx="962.4" cy="706.4" r="2.35" fill="#111"/>
<circle cx="964.6" cy="682.4" r="2.35" fill="#111"/>
<circle cx="970.6" cy="646.4" r="2.35" fill="#111"/>
<circle cx="973.4" cy="632.1" r="2.35" fill="#111"/>
<circle cx="976.0" cy="632.9" r="2.35" fill="#111"/>
<circle cx="978.7" cy="639.2" r="2.35" fill="#111"/>
<circle cx="981.6" cy="656.4" r="2.35" fill="#111"/>
<circle cx="984.4" cy="679.9" r="2.35" fill="#111"/>
<circle cx="987.1" cy="702.4" r="2.35" fill="#111"/>
<circle cx="990.0" cy="702.4" r="2.35" fill="#111"/>
<circle cx="992.7" cy="681.1" r="2.35" fill="#111"/>
<circle cx="995.3" cy="674.9" r="2.35" fill="#111"/>
<circle cx="998.3" cy="684.5" r="2.35" fill="#111"/>
<circle cx="1001.0" cy="708.2" r="2.35" fill="#111"/>
<circle cx="1006.5" cy="713.6" r="2.35" fill="#111"/>
<circle cx="1009.3" cy="694.5" r="2.35" fill="#111"/>
<circle cx="1012.1" cy="705.7" r="2.35" fill="#111"/>
<circle cx="1014.7" cy="714.9" r="2.35" fill="#111"/>
<circle cx="1017.4" cy="739.5" r="2.35" fill="#111"/>
<circle cx="1020.3" cy="730.7" r="2.35" fill="#111"/>
<circle cx="1023.3" cy="716.6" r="2.35" fill="#111"/>
<circle cx="1025.9" cy="693.6" r="2.35" fill="#111"/>
<circle cx="1028.7" cy="687.0" r="2.35" fill="#111"/>
<circle cx="1031.2" cy="682.9" r="2.35" fill="#111"/>
<circle cx="1034.3" cy="689.1" r="2.35" fill="#111"/>
<circle cx="1037.1" cy="688.6" r="2.35" fill="#111"/>
<circle cx="1042.4" cy="696.1" r="2.35" fill="#111"/>
<circle cx="1045.3" cy="700.7" r="2.35" fill="#111"/>
<circle cx="1048.0" cy="699.9" r="2.35" fill="#111"/>
<circle cx="1050.8" cy="707.4" r="2.35" fill="#111"/>
<circle cx="1053.4" cy="717.6" r="2.35" fill="#111"/>
<circle cx="1056.4" cy="725.7" r="2.35" fill="#111"/>
<circle cx="1059.3" cy="719.1" r="2.35" fill="#111"/>
<circle cx="1062.0" cy="714.9" r="2.35" fill="#111"/>
<circle cx="1064.7" cy="700.1" r="2.35" fill="#111"/>
<circle cx="1067.4" cy="691.4" r="2.35" fill="#111"/>
<circle cx="1070.2" cy="678.6" r="2.35" fill="#111"/>
<polyline points="157.2,715.7 160.2,710.4 162.9,706.4 165.6,699.5 168.4,704.1 171.2,708.6 174.0,714.1 179.3,717.0 182.2,715.4 185.0,701.6 187.7,698.2 190.6,705.7 193.3,719.1 196.2,709.9 199.0,675.8 201.5,661.6 204.3,665.8 207.2,680.4 209.9,697.4 215.2,695.7 218.1,687.6 220.8,674.5 223.7,657.7 226.4,648.3 229.1,625.8 232.1,622.7 234.7,630.8 237.4,649.2 240.2,647.7 243.0,665.4 245.8,681.4 251.2,722.8 254.0,721.6 256.8,712.4 259.5,703.9 262.4,713.6 265.1,719.8 268.0,721.1 270.8,721.6 273.4,717.3 276.1,734.8 279.0,717.6 281.8,721.1 287.1,711.1 289.6,722.6 292.5,733.6 295.4,735.7 298.1,747.6 301.0,743.2 303.7,727.8 306.5,722.8 309.4,726.6 312.2,728.2 315.0,710.4 317.5,688.9 323.1,683.3 326.0,687.6 328.5,700.1 331.2,707.0 334.0,713.6 336.8,707.4 339.6,694.9 342.4,695.4 345.2,700.7 348.1,703.2 350.8,693.2 353.4,679.9 358.9,673.9 361.6,682.6 364.6,683.6 367.2,694.1 369.9,703.2 372.7,715.1 375.5,713.9 378.3,694.1 381.2,693.2 383.9,682.9 386.8,657.0 389.5,645.4 394.9,652.0 397.8,672.0 400.5,650.8 403.0,625.4 405.8,620.4 408.6,642.4 411.5,672.0 414.3,687.4 417.1,683.3 419.9,673.9 422.4,673.9 424.6,686.1 431.0,697.6 433.7,682.4 436.2,667.9 439.0,657.0 441.9,661.4 444.6,666.6 447.2,667.0 450.0,675.1 452.7,660.2 455.6,665.4 458.5,665.8 461.2,675.8 466.6,661.4 469.6,672.9 472.5,679.9 475.0,676.1 477.8,655.4 480.3,627.1 483.1,626.2 485.9,624.9 488.7,651.2 491.6,668.6 494.3,691.1 497.2,690.1 502.4,671.6 505.3,652.7 508.0,663.6 510.9,674.5 513.7,676.6 516.2,658.7 519.3,655.2 522.0,648.3 524.7,667.4 527.4,666.1 530.3,689.1 532.8,682.0 538.4,715.1 541.1,714.1 544.0,725.3 546.8,716.6 549.9,716.4 552.4,707.9 555.1,694.9 557.8,685.4 559.9,680.1 564.0,687.0 566.9,706.4 569.7,721.1 575.4,726.3 578.4,735.7 581.0,725.3 584.0,726.3 586.6,704.5 589.3,701.4 592.1,694.1 595.0,691.6 597.7,696.4 600.3,683.9 603.1,690.7 605.8,686.6 611.6,697.9 614.3,716.1 616.8,723.2 619.6,729.5 622.2,701.6 625.2,699.5 628.1,691.4 630.8,696.1 633.4,701.1 636.4,701.4 639.0,695.4 642.0,680.4 647.4,668.3 650.2,651.7 653.0,634.9 655.8,625.4 658.4,617.1 661.2,629.9 664.0,641.2 666.8,669.1 669.5,671.4 672.0,687.9 674.9,695.1 677.8,712.0 683.0,695.4 685.9,711.6 688.9,718.8 691.8,742.3 694.5,725.3 697.2,720.7 700.0,704.5 702.5,713.6 705.2,691.6 708.1,675.1 710.9,654.5 713.7,673.6 719.0,693.9 721.8,707.4 724.7,703.9 727.2,717.6 730.2,715.1 732.8,717.8 735.8,703.2 738.5,694.5 741.2,696.6 744.1,683.3 746.8,672.0 749.6,654.2 754.9,663.6 757.8,677.0 760.6,697.6 763.4,714.9 765.9,728.2 768.9,722.8 771.8,712.9 774.5,714.1 777.4,697.6 779.9,691.1 782.7,680.4 785.3,707.9 790.9,730.7 793.7,733.2 796.5,734.1 799.3,714.9 802.1,709.5 804.9,700.4 807.6,703.9 810.5,687.6 813.3,666.1 815.9,655.8 818.6,643.9 821.5,627.4 827.0,596.2 829.5,588.0 832.5,577.1 835.2,567.7 838.1,568.4 840.9,581.7 843.5,605.8 846.5,608.7 849.1,616.7 851.9,646.2 854.6,671.6 857.5,672.9 862.7,642.0 865.6,620.4 868.3,609.3 871.2,596.5 874.0,575.9 876.8,558.0 879.6,569.6 882.2,596.7 884.9,635.4 887.7,628.9 890.6,635.2 893.4,638.7 898.7,649.5 901.4,643.3 904.1,631.2 907.1,626.4 909.9,632.1 912.8,630.4 915.3,652.9 918.0,668.3 920.8,682.6 923.7,667.6 926.4,672.0 929.0,668.6 934.7,665.1 937.1,652.7 940.1,649.9 943.0,656.2 945.8,660.4 948.6,671.1 951.4,686.4 954.3,697.9 956.8,704.5 959.5,719.5 962.4,706.4 964.6,682.4 970.6,646.4 973.4,632.1 976.0,632.9 978.7,639.2 981.6,656.4 984.4,679.9 987.1,702.4 990.0,702.4 992.7,681.1 995.3,674.9 998.3,684.5 1001.0,708.2 1006.5,713.6 1009.3,694.5 1012.1,705.7 1014.7,714.9 1017.4,739.5 1020.3,730.7 1023.3,716.6 1025.9,693.6 1028.7,687.0 1031.2,682.9 1034.3,689.1 1037.1,688.6 1042.4,696.1 1045.3,700.7 1048.0,699.9 1050.8,707.4 1053.4,717.6 1056.4,725.7 1059.3,719.1 1062.0,714.9 1064.7,700.1 1067.4,691.4 1070.2,678.6" fill="none" stroke="#30e030" stroke-width="1.25" stroke-linejoin="round"/>
<circle cx="157.2" cy="151.9" r="2.35" fill="#111"/>
<circle cx="159.7" cy="172.9" r="2.35" fill="#111"/>
<circle cx="162.5" cy="180.0" r="2.35" fill="#111"/>
<circle cx="165.2" cy="177.5" r="2.35" fill="#111"/>
<circle cx="168.1" cy="175.0" r="2.35" fill="#111"/>
<circle cx="171.0" cy="175.4" r="2.35" fill="#111"/>
<circle cx="173.7" cy="170.4" r="2.35" fill="#111"/>
<circle cx="179.3" cy="170.0" r="2.35" fill="#111"/>
<circle cx="182.2" cy="174.4" r="2.35" fill="#111"/>
<circle cx="185.0" cy="170.0" r="2.35" fill="#111"/>
<circle cx="187.2" cy="178.8" r="2.35" fill="#111"/>
<circle cx="190.0" cy="181.9" r="2.35" fill="#111"/>
<circle cx="193.1" cy="183.4" r="2.35" fill="#111"/>
<circle cx="196.2" cy="164.4" r="2.35" fill="#111"/>
<circle cx="199.0" cy="135.1" r="2.35" fill="#111"/>
<circle cx="201.2" cy="120.7" r="2.35" fill="#111"/>
<circle cx="204.0" cy="116.3" r="2.35" fill="#111"/>
<circle cx="206.8" cy="135.9" r="2.35" fill="#111"/>
<circle cx="209.9" cy="145.0" r="2.35" fill="#111"/>
<circle cx="215.2" cy="148.8" r="2.35" fill="#111"/>
<circle cx="218.1" cy="136.9" r="2.35" fill="#111"/>
<circle cx="220.9" cy="133.2" r="2.35" fill="#111"/>
<circle cx="223.7" cy="121.9" r="2.35" fill="#111"/>
<circle cx="226.4" cy="104.7" r="2.35" fill="#111"/>
<circle cx="228.9" cy="78.0" r="2.35" fill="#111"/>
<circle cx="232.1" cy="61.0" r="2.35" fill="#111"/>
<circle cx="234.9" cy="63.5" r="2.35" fill="#111"/>
<circle cx="237.4" cy="93.8" r="2.35" fill="#111"/>
<circle cx="240.2" cy="122.2" r="2.35" fill="#111"/>
<circle cx="242.7" cy="159.4" r="2.35" fill="#111"/>
<circle cx="245.5" cy="173.8" r="2.35" fill="#111"/>
<circle cx="250.9" cy="187.5" r="2.35" fill="#111"/>
<circle cx="253.7" cy="183.1" r="2.35" fill="#111"/>
<circle cx="256.4" cy="182.9" r="2.35" fill="#111"/>
<circle cx="259.5" cy="191.3" r="2.35" fill="#111"/>
<circle cx="262.1" cy="203.7" r="2.35" fill="#111"/>
<circle cx="264.9" cy="210.0" r="2.35" fill="#111"/>
<circle cx="267.6" cy="211.6" r="2.35" fill="#111"/>
<circle cx="270.5" cy="218.1" r="2.35" fill="#111"/>
<circle cx="273.4" cy="221.2" r="2.35" fill="#111"/>
<circle cx="276.1" cy="242.5" r="2.35" fill="#111"/>
<circle cx="279.0" cy="232.5" r="2.35" fill="#111"/>
<circle cx="281.8" cy="237.8" r="2.35" fill="#111"/>
<circle cx="287.1" cy="218.7" r="2.35" fill="#111"/>
<circle cx="289.6" cy="228.1" r="2.35" fill="#111"/>
<circle cx="292.5" cy="231.8" r="2.35" fill="#111"/>
<circle cx="295.4" cy="235.6" r="2.35" fill="#111"/>
<circle cx="298.1" cy="229.3" r="2.35" fill="#111"/>
<circle cx="301.0" cy="220.0" r="2.35" fill="#111"/>
<circle cx="303.7" cy="206.9" r="2.35" fill="#111"/>
<circle cx="306.5" cy="203.1" r="2.35" fill="#111"/>
<circle cx="309.4" cy="208.7" r="2.35" fill="#111"/>
<circle cx="312.2" cy="218.7" r="2.35" fill="#111"/>
<circle cx="315.0" cy="208.7" r="2.35" fill="#111"/>
<circle cx="317.5" cy="190.9" r="2.35" fill="#111"/>
<circle cx="323.1" cy="183.1" r="2.35" fill="#111"/>
<circle cx="326.0" cy="190.0" r="2.35" fill="#111"/>
<circle cx="328.7" cy="207.5" r="2.35" fill="#111"/>
<circle cx="331.5" cy="217.9" r="2.35" fill="#111"/>
<circle cx="334.1" cy="225.0" r="2.35" fill="#111"/>
<circle cx="337.1" cy="216.9" r="2.35" fill="#111"/>
<circle cx="339.6" cy="204.6" r="2.35" fill="#111"/>
<circle cx="342.4" cy="206.2" r="2.35" fill="#111"/>
<circle cx="345.2" cy="211.2" r="2.35" fill="#111"/>
<circle cx="348.1" cy="212.5" r="2.35" fill="#111"/>
<circle cx="350.9" cy="197.5" r="2.35" fill="#111"/>
<circle cx="353.4" cy="172.9" r="2.35" fill="#111"/>
<circle cx="359.3" cy="161.7" r="2.35" fill="#111"/>
<circle cx="362.1" cy="163.5" r="2.35" fill="#111"/>
<circle cx="364.9" cy="180.0" r="2.35" fill="#111"/>
<circle cx="367.2" cy="201.9" r="2.35" fill="#111"/>
<circle cx="369.9" cy="213.7" r="2.35" fill="#111"/>
<circle cx="372.8" cy="216.9" r="2.35" fill="#111"/>
<circle cx="375.5" cy="208.7" r="2.35" fill="#111"/>
<circle cx="378.4" cy="210.6" r="2.35" fill="#111"/>
<circle cx="381.2" cy="218.7" r="2.35" fill="#111"/>
<circle cx="383.9" cy="207.9" r="2.35" fill="#111"/>
<circle cx="386.8" cy="184.4" r="2.35" fill="#111"/>
<circle cx="389.3" cy="160.4" r="2.35" fill="#111"/>
<circle cx="394.9" cy="157.9" r="2.35" fill="#111"/>
<circle cx="398.0" cy="130.1" r="2.35" fill="#111"/>
<circle cx="400.5" cy="113.4" r="2.35" fill="#111"/>
<circle cx="403.0" cy="98.0" r="2.35" fill="#111"/>
<circle cx="405.9" cy="131.3" r="2.35" fill="#111"/>
<circle cx="408.6" cy="145.0" r="2.35" fill="#111"/>
<circle cx="411.5" cy="165.9" r="2.35" fill="#111"/>
<circle cx="414.3" cy="173.1" r="2.35" fill="#111"/>
<circle cx="417.0" cy="174.4" r="2.35" fill="#111"/>
<circle cx="419.9" cy="184.1" r="2.35" fill="#111"/>
<circle cx="422.6" cy="179.4" r="2.35" fill="#111"/>
<circle cx="424.9" cy="175.0" r="2.35" fill="#111"/>
<circle cx="431.0" cy="151.9" r="2.35" fill="#111"/>
<circle cx="433.5" cy="133.2" r="2.35" fill="#111"/>
<circle cx="436.2" cy="124.4" r="2.35" fill="#111"/>
<circle cx="439.0" cy="124.4" r="2.35" fill="#111"/>
<circle cx="441.9" cy="129.4" r="2.35" fill="#111"/>
<circle cx="444.7" cy="143.5" r="2.35" fill="#111"/>
<circle cx="447.5" cy="140.0" r="2.35" fill="#111"/>
<circle cx="450.2" cy="144.7" r="2.35" fill="#111"/>
<circle cx="453.1" cy="147.9" r="2.35" fill="#111"/>
<circle cx="456.0" cy="155.9" r="2.35" fill="#111"/>
<circle cx="458.7" cy="167.5" r="2.35" fill="#111"/>
<circle cx="461.2" cy="143.8" r="2.35" fill="#111"/>
<circle cx="466.5" cy="123.8" r="2.35" fill="#111"/>
<circle cx="469.6" cy="105.1" r="2.35" fill="#111"/>
<circle cx="472.2" cy="96.7" r="2.35" fill="#111"/>
<circle cx="475.0" cy="88.5" r="2.35" fill="#111"/>
<circle cx="477.7" cy="68.2" r="2.35" fill="#111"/>
<circle cx="480.6" cy="68.9" r="2.35" fill="#111"/>
<circle cx="483.3" cy="72.0" r="2.35" fill="#111"/>
<circle cx="486.2" cy="93.5" r="2.35" fill="#111"/>
<circle cx="488.9" cy="109.7" r="2.35" fill="#111"/>
<circle cx="491.6" cy="136.9" r="2.35" fill="#111"/>
<circle cx="494.6" cy="145.4" r="2.35" fill="#111"/>
<circle cx="497.4" cy="161.9" r="2.35" fill="#111"/>
<circle cx="502.4" cy="170.0" r="2.35" fill="#111"/>
<circle cx="505.3" cy="167.5" r="2.35" fill="#111"/>
<circle cx="508.0" cy="171.9" r="2.35" fill="#111"/>
<circle cx="510.9" cy="171.3" r="2.35" fill="#111"/>
<circle cx="513.7" cy="170.0" r="2.35" fill="#111"/>
<circle cx="516.4" cy="164.4" r="2.35" fill="#111"/>
<circle cx="519.0" cy="159.7" r="2.35" fill="#111"/>
<circle cx="522.0" cy="164.4" r="2.35" fill="#111"/>
<circle cx="524.9" cy="176.3" r="2.35" fill="#111"/>
<circle cx="527.7" cy="146.7" r="2.35" fill="#111"/>
<circle cx="530.5" cy="150.0" r="2.35" fill="#111"/>
<circle cx="533.0" cy="135.9" r="2.35" fill="#111"/>
<circle cx="538.6" cy="171.5" r="2.35" fill="#111"/>
<circle cx="541.4" cy="182.5" r="2.35" fill="#111"/>
<circle cx="544.0" cy="206.9" r="2.35" fill="#111"/>
<circle cx="546.8" cy="220.0" r="2.35" fill="#111"/>
<circle cx="549.9" cy="220.0" r="2.35" fill="#111"/>
<circle cx="552.4" cy="207.5" r="2.35" fill="#111"/>
<circle cx="555.1" cy="190.0" r="2.35" fill="#111"/>
<circle cx="558.0" cy="171.9" r="2.35" fill="#111"/>
<circle cx="559.9" cy="166.6" r="2.35" fill="#111"/>
<circle cx="563.7" cy="188.1" r="2.35" fill="#111"/>
<circle cx="566.9" cy="225.8" r="2.35" fill="#111"/>
<circle cx="569.7" cy="245.0" r="2.35" fill="#111"/>
<circle cx="575.0" cy="238.1" r="2.35" fill="#111"/>
<circle cx="578.1" cy="236.6" r="2.35" fill="#111"/>
<circle cx="581.0" cy="232.8" r="2.35" fill="#111"/>
<circle cx="583.7" cy="236.6" r="2.35" fill="#111"/>
<circle cx="586.6" cy="223.1" r="2.35" fill="#111"/>
<circle cx="589.3" cy="218.1" r="2.35" fill="#111"/>
<circle cx="592.2" cy="211.9" r="2.35" fill="#111"/>
<circle cx="595.0" cy="211.9" r="2.35" fill="#111"/>
<circle cx="597.8" cy="213.4" r="2.35" fill="#111"/>
<circle cx="600.6" cy="208.5" r="2.35" fill="#111"/>
<circle cx="603.1" cy="184.1" r="2.35" fill="#111"/>
<circle cx="606.0" cy="182.5" r="2.35" fill="#111"/>
<circle cx="611.4" cy="186.3" r="2.35" fill="#111"/>
<circle cx="614.3" cy="221.8" r="2.35" fill="#111"/>
<circle cx="616.8" cy="233.1" r="2.35" fill="#111"/>
<circle cx="619.7" cy="241.8" r="2.35" fill="#111"/>
<circle cx="622.4" cy="226.6" r="2.35" fill="#111"/>
<circle cx="625.3" cy="214.1" r="2.35" fill="#111"/>
<circle cx="628.1" cy="202.5" r="2.35" fill="#111"/>
<circle cx="630.9" cy="201.2" r="2.35" fill="#111"/>
<circle cx="633.4" cy="208.7" r="2.35" fill="#111"/>
<circle cx="636.2" cy="220.3" r="2.35" fill="#111"/>
<circle cx="639.3" cy="216.9" r="2.35" fill="#111"/>
<circle cx="641.8" cy="189.1" r="2.35" fill="#111"/>
<circle cx="647.2" cy="147.5" r="2.35" fill="#111"/>
<circle cx="649.9" cy="129.7" r="2.35" fill="#111"/>
<circle cx="652.8" cy="121.1" r="2.35" fill="#111"/>
<circle cx="655.5" cy="115.7" r="2.35" fill="#111"/>
<circle cx="658.4" cy="109.2" r="2.35" fill="#111"/>
<circle cx="661.2" cy="120.4" r="2.35" fill="#111"/>
<circle cx="664.0" cy="146.9" r="2.35" fill="#111"/>
<circle cx="666.8" cy="166.9" r="2.35" fill="#111"/>
<circle cx="669.3" cy="168.1" r="2.35" fill="#111"/>
<circle cx="672.0" cy="185.9" r="2.35" fill="#111"/>
<circle cx="674.6" cy="192.5" r="2.35" fill="#111"/>
<circle cx="677.6" cy="197.1" r="2.35" fill="#111"/>
<circle cx="683.0" cy="180.0" r="2.35" fill="#111"/>
<circle cx="685.9" cy="195.4" r="2.35" fill="#111"/>
<circle cx="688.9" cy="210.9" r="2.35" fill="#111"/>
<circle cx="691.8" cy="217.9" r="2.35" fill="#111"/>
<circle cx="694.6" cy="206.2" r="2.35" fill="#111"/>
<circle cx="697.2" cy="195.6" r="2.35" fill="#111"/>
<circle cx="700.0" cy="200.6" r="2.35" fill="#111"/>
<circle cx="702.5" cy="201.2" r="2.35" fill="#111"/>
<circle cx="705.2" cy="196.9" r="2.35" fill="#111"/>
<circle cx="708.1" cy="182.1" r="2.35" fill="#111"/>
<circle cx="711.0" cy="178.1" r="2.35" fill="#111"/>
<circle cx="713.7" cy="172.5" r="2.35" fill="#111"/>
<circle cx="719.0" cy="179.4" r="2.35" fill="#111"/>
<circle cx="721.8" cy="178.1" r="2.35" fill="#111"/>
<circle cx="725.0" cy="177.9" r="2.35" fill="#111"/>
<circle cx="727.5" cy="188.8" r="2.35" fill="#111"/>
<circle cx="730.2" cy="194.1" r="2.35" fill="#111"/>
<circle cx="732.7" cy="207.5" r="2.35" fill="#111"/>
<circle cx="735.6" cy="204.6" r="2.35" fill="#111"/>
<circle cx="738.5" cy="205.6" r="2.35" fill="#111"/>
<circle cx="741.2" cy="209.1" r="2.35" fill="#111"/>
<circle cx="744.0" cy="185.9" r="2.35" fill="#111"/>
<circle cx="746.8" cy="162.9" r="2.35" fill="#111"/>
<circle cx="749.7" cy="134.2" r="2.35" fill="#111"/>
<circle cx="754.9" cy="155.4" r="2.35" fill="#111"/>
<circle cx="757.8" cy="162.9" r="2.35" fill="#111"/>
<circle cx="760.6" cy="193.4" r="2.35" fill="#111"/>
<circle cx="763.4" cy="204.6" r="2.35" fill="#111"/>
<circle cx="765.9" cy="218.7" r="2.35" fill="#111"/>
<circle cx="768.7" cy="212.9" r="2.35" fill="#111"/>
<circle cx="771.8" cy="206.9" r="2.35" fill="#111"/>
<circle cx="774.7" cy="204.6" r="2.35" fill="#111"/>
<circle cx="777.4" cy="189.1" r="2.35" fill="#111"/>
<circle cx="780.2" cy="187.5" r="2.35" fill="#111"/>
<circle cx="782.4" cy="169.6" r="2.35" fill="#111"/>
<circle cx="785.2" cy="209.4" r="2.35" fill="#111"/>
<circle cx="790.9" cy="220.6" r="2.35" fill="#111"/>
<circle cx="793.7" cy="250.6" r="2.35" fill="#111"/>
<circle cx="796.5" cy="236.8" r="2.35" fill="#111"/>
<circle cx="799.0" cy="210.4" r="2.35" fill="#111"/>
<circle cx="802.0" cy="199.1" r="2.35" fill="#111"/>
<circle cx="804.6" cy="186.6" r="2.35" fill="#111"/>
<circle cx="807.4" cy="195.4" r="2.35" fill="#111"/>
<circle cx="810.5" cy="175.9" r="2.35" fill="#111"/>
<circle cx="813.3" cy="137.9" r="2.35" fill="#111"/>
<circle cx="815.9" cy="116.9" r="2.35" fill="#111"/>
<circle cx="818.6" cy="121.7" r="2.35" fill="#111"/>
<circle cx="821.4" cy="145.9" r="2.35" fill="#111"/>
<circle cx="827.0" cy="149.7" r="2.35" fill="#111"/>
<circle cx="829.3" cy="131.9" r="2.35" fill="#111"/>
<circle cx="832.2" cy="108.0" r="2.35" fill="#111"/>
<circle cx="835.0" cy="100.7" r="2.35" fill="#111"/>
<circle cx="837.9" cy="110.4" r="2.35" fill="#111"/>
<circle cx="840.9" cy="115.1" r="2.35" fill="#111"/>
<circle cx="843.7" cy="110.9" r="2.35" fill="#111"/>
<circle cx="846.5" cy="91.3" r="2.35" fill="#111"/>
<circle cx="849.1" cy="76.7" r="2.35" fill="#111"/>
<circle cx="851.9" cy="80.5" r="2.35" fill="#111"/>
<circle cx="854.6" cy="100.5" r="2.35" fill="#111"/>
<circle cx="857.2" cy="136.3" r="2.35" fill="#111"/>
<circle cx="862.7" cy="134.4" r="2.35" fill="#111"/>
<circle cx="865.6" cy="129.2" r="2.35" fill="#111"/>
<circle cx="868.3" cy="103.8" r="2.35" fill="#111"/>
<circle cx="871.2" cy="80.7" r="2.35" fill="#111"/>
<circle cx="874.0" cy="68.0" r="2.35" fill="#111"/>
<circle cx="876.8" cy="74.2" r="2.35" fill="#111"/>
<circle cx="879.6" cy="100.5" r="2.35" fill="#111"/>
<circle cx="882.1" cy="108.4" r="2.35" fill="#111"/>
<circle cx="884.9" cy="120.1" r="2.35" fill="#111"/>
<circle cx="887.7" cy="109.7" r="2.35" fill="#111"/>
<circle cx="890.3" cy="122.9" r="2.35" fill="#111"/>
<circle cx="893.3" cy="137.5" r="2.35" fill="#111"/>
<circle cx="898.7" cy="154.7" r="2.35" fill="#111"/>
<circle cx="901.4" cy="138.2" r="2.35" fill="#111"/>
<circle cx="904.1" cy="108.0" r="2.35" fill="#111"/>
<circle cx="907.1" cy="100.7" r="2.35" fill="#111"/>
<circle cx="909.9" cy="86.0" r="2.35" fill="#111"/>
<circle cx="912.8" cy="100.1" r="2.35" fill="#111"/>
<circle cx="915.5" cy="110.1" r="2.35" fill="#111"/>
<circle cx="918.0" cy="145.7" r="2.35" fill="#111"/>
<circle cx="920.8" cy="152.9" r="2.35" fill="#111"/>
<circle cx="923.7" cy="155.7" r="2.35" fill="#111"/>
<circle cx="926.5" cy="166.6" r="2.35" fill="#111"/>
<circle cx="929.0" cy="175.6" r="2.35" fill="#111"/>
<circle cx="934.7" cy="173.4" r="2.35" fill="#111"/>
<circle cx="937.4" cy="160.7" r="2.35" fill="#111"/>
<circle cx="940.1" cy="145.7" r="2.35" fill="#111"/>
<circle cx="943.0" cy="145.7" r="2.35" fill="#111"/>
<circle cx="945.8" cy="148.2" r="2.35" fill="#111"/>
<circle cx="948.4" cy="161.9" r="2.35" fill="#111"/>
<circle cx="951.4" cy="172.1" r="2.35" fill="#111"/>
<circle cx="954.3" cy="186.9" r="2.35" fill="#111"/>
<circle cx="957.0" cy="212.5" r="2.35" fill="#111"/>
<circle cx="959.6" cy="238.1" r="2.35" fill="#111"/>
<circle cx="962.1" cy="241.2" r="2.35" fill="#111"/>
<circle cx="964.6" cy="215.6" r="2.35" fill="#111"/>
<circle cx="970.6" cy="174.4" r="2.35" fill="#111"/>
<circle cx="973.4" cy="145.9" r="2.35" fill="#111"/>
<circle cx="976.0" cy="140.0" r="2.35" fill="#111"/>
<circle cx="978.7" cy="139.4" r="2.35" fill="#111"/>
<circle cx="981.5" cy="155.4" r="2.35" fill="#111"/>
<circle cx="984.4" cy="165.9" r="2.35" fill="#111"/>
<circle cx="987.1" cy="175.9" r="2.35" fill="#111"/>
<circle cx="990.0" cy="152.5" r="2.35" fill="#111"/>
<circle cx="992.7" cy="129.7" r="2.35" fill="#111"/>
<circle cx="995.3" cy="117.2" r="2.35" fill="#111"/>
<circle cx="998.1" cy="117.2" r="2.35" fill="#111"/>
<circle cx="1001.0" cy="128.8" r="2.35" fill="#111"/>
<circle cx="1006.6" cy="145.9" r="2.35" fill="#111"/>
<circle cx="1009.3" cy="167.9" r="2.35" fill="#111"/>
<circle cx="1012.2" cy="186.9" r="2.35" fill="#111"/>
<circle cx="1014.7" cy="204.4" r="2.35" fill="#111"/>
<circle cx="1017.4" cy="216.9" r="2.35" fill="#111"/>
<circle cx="1020.3" cy="216.9" r="2.35" fill="#111"/>
<circle cx="1023.3" cy="205.9" r="2.35" fill="#111"/>
<circle cx="1026.2" cy="187.1" r="2.35" fill="#111"/>
<circle cx="1028.7" cy="168.8" r="2.35" fill="#111"/>
<circle cx="1031.4" cy="153.8" r="2.35" fill="#111"/>
<circle cx="1034.3" cy="139.7" r="2.35" fill="#111"/>
<circle cx="1037.2" cy="156.9" r="2.35" fill="#111"/>
<circle cx="1042.4" cy="171.6" r="2.35" fill="#111"/>
<circle cx="1045.2" cy="200.6" r="2.35" fill="#111"/>
<circle cx="1048.0" cy="211.9" r="2.35" fill="#111"/>
<circle cx="1050.9" cy="223.7" r="2.35" fill="#111"/>
<circle cx="1053.4" cy="226.6" r="2.35" fill="#111"/>
<circle cx="1056.4" cy="214.6" r="2.35" fill="#111"/>
<circle cx="1059.0" cy="207.5" r="2.35" fill="#111"/>
<circle cx="1062.0" cy="205.9" r="2.35" fill="#111"/>
<circle cx="1064.7" cy="198.7" r="2.35" fill="#111"/>
<circle cx="1067.4" cy="160.4" r="2.35" fill="#111"/>
<circle cx="1070.2" cy="134.2" r="2.35" fill="#111"/>
<polyline points="157.2,151.9 159.7,172.9 162.5,180.0 165.2,177.5 168.1,175.0 171.0,175.4 173.7,170.4 179.3,170.0 182.2,174.4 185.0,170.0 187.2,178.8 190.0,181.9 193.1,183.4 196.2,164.4 199.0,135.1 201.2,120.7 204.0,116.3 206.8,135.9 209.9,145.0 215.2,148.8 218.1,136.9 220.9,133.2 223.7,121.9 226.4,104.7 228.9,78.0 232.1,61.0 234.9,63.5 237.4,93.8 240.2,122.2 242.7,159.4 245.5,173.8 250.9,187.5 253.7,183.1 256.4,182.9 259.5,191.3 262.1,203.7 264.9,210.0 267.6,211.6 270.5,218.1 273.4,221.2 276.1,242.5 279.0,232.5 281.8,237.8 287.1,218.7 289.6,228.1 292.5,231.8 295.4,235.6 298.1,229.3 301.0,220.0 303.7,206.9 306.5,203.1 309.4,208.7 312.2,218.7 315.0,208.7 317.5,190.9 323.1,183.1 326.0,190.0 328.7,207.5 331.5,217.9 334.1,225.0 337.1,216.9 339.6,204.6 342.4,206.2 345.2,211.2 348.1,212.5 350.9,197.5 353.4,172.9 359.3,161.7 362.1,163.5 364.9,180.0 367.2,201.9 369.9,213.7 372.8,216.9 375.5,208.7 378.4,210.6 381.2,218.7 383.9,207.9 386.8,184.4 389.3,160.4 394.9,157.9 398.0,130.1 400.5,113.4 403.0,98.0 405.9,131.3 408.6,145.0 411.5,165.9 414.3,173.1 417.0,174.4 419.9,184.1 422.6,179.4 424.9,175.0 431.0,151.9 433.5,133.2 436.2,124.4 439.0,124.4 441.9,129.4 444.7,143.5 447.5,140.0 450.2,144.7 453.1,147.9 456.0,155.9 458.7,167.5 461.2,143.8 466.5,123.8 469.6,105.1 472.2,96.7 475.0,88.5 477.7,68.2 480.6,68.9 483.3,72.0 486.2,93.5 488.9,109.7 491.6,136.9 494.6,145.4 497.4,161.9 502.4,170.0 505.3,167.5 508.0,171.9 510.9,171.3 513.7,170.0 516.4,164.4 519.0,159.7 522.0,164.4 524.9,176.3 527.7,146.7 530.5,150.0 533.0,135.9 538.6,171.5 541.4,182.5 544.0,206.9 546.8,220.0 549.9,220.0 552.4,207.5 555.1,190.0 558.0,171.9 559.9,166.6 563.7,188.1 566.9,225.8 569.7,245.0 575.0,238.1 578.1,236.6 581.0,232.8 583.7,236.6 586.6,223.1 589.3,218.1 592.2,211.9 595.0,211.9 597.8,213.4 600.6,208.5 603.1,184.1 606.0,182.5 611.4,186.3 614.3,221.8 616.8,233.1 619.7,241.8 622.4,226.6 625.3,214.1 628.1,202.5 630.9,201.2 633.4,208.7 636.2,220.3 639.3,216.9 641.8,189.1 647.2,147.5 649.9,129.7 652.8,121.1 655.5,115.7 658.4,109.2 661.2,120.4 664.0,146.9 666.8,166.9 669.3,168.1 672.0,185.9 674.6,192.5 677.6,197.1 683.0,180.0 685.9,195.4 688.9,210.9 691.8,217.9 694.6,206.2 697.2,195.6 700.0,200.6 702.5,201.2 705.2,196.9 708.1,182.1 711.0,178.1 713.7,172.5 719.0,179.4 721.8,178.1 725.0,177.9 727.5,188.8 730.2,194.1 732.7,207.5 735.6,204.6 738.5,205.6 741.2,209.1 744.0,185.9 746.8,162.9 749.7,134.2 754.9,155.4 757.8,162.9 760.6,193.4 763.4,204.6 765.9,218.7 768.7,212.9 771.8,206.9 774.7,204.6 777.4,189.1 780.2,187.5 782.4,169.6 785.2,209.4 790.9,220.6 793.7,250.6 796.5,236.8 799.0,210.4 802.0,199.1 804.6,186.6 807.4,195.4 810.5,175.9 813.3,137.9 815.9,116.9 818.6,121.7 821.4,145.9 827.0,149.7 829.3,131.9 832.2,108.0 835.0,100.7 837.9,110.4 840.9,115.1 843.7,110.9 846.5,91.3 849.1,76.7 851.9,80.5 854.6,100.5 857.2,136.3 862.7,134.4 865.6,129.2 868.3,103.8 871.2,80.7 874.0,68.0 876.8,74.2 879.6,100.5 882.1,108.4 884.9,120.1 887.7,109.7 890.3,122.9 893.3,137.5 898.7,154.7 901.4,138.2 904.1,108.0 907.1,100.7 909.9,86.0 912.8,100.1 915.5,110.1 918.0,145.7 920.8,152.9 923.7,155.7 926.5,166.6 929.0,175.6 934.7,173.4 937.4,160.7 940.1,145.7 943.0,145.7 945.8,148.2 948.4,161.9 951.4,172.1 954.3,186.9 957.0,212.5 959.6,238.1 962.1,241.2 964.6,215.6 970.6,174.4 973.4,145.9 976.0,140.0 978.7,139.4 981.5,155.4 984.4,165.9 987.1,175.9 990.0,152.5 992.7,129.7 995.3,117.2 998.1,117.2 1001.0,128.8 1006.6,145.9 1009.3,167.9 1012.2,186.9 1014.7,204.4 1017.4,216.9 1020.3,216.9 1023.3,205.9 1026.2,187.1 1028.7,168.8 1031.4,153.8 1034.3,139.7 1037.2,156.9 1042.4,171.6 1045.2,200.6 1048.0,211.9 1050.9,223.7 1053.4,226.6 1056.4,214.6 1059.0,207.5 1062.0,205.9 1064.7,198.7 1067.4,160.4 1070.2,134.2" fill="none" stroke="#e01010" stroke-width="1.2" stroke-linejoin="round"/>
</svg></body></html>
